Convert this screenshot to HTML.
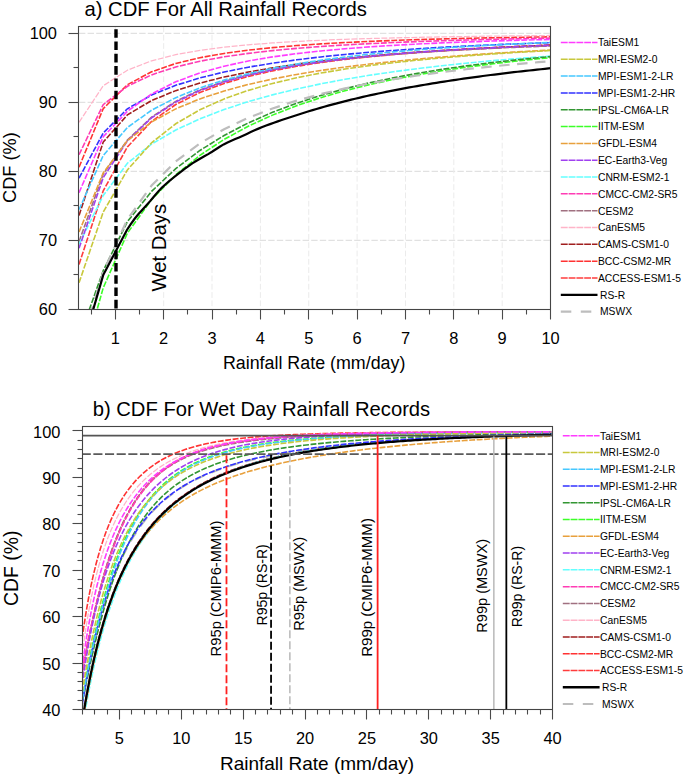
<!DOCTYPE html>
<html><head><meta charset="utf-8"><style>
html,body{margin:0;padding:0;background:#fff;}
svg{display:block;}
text{font-family:"Liberation Sans", sans-serif;fill:#000;}
</style></head><body>
<svg width="685" height="777" viewBox="0 0 685 777">
<rect width="685" height="777" fill="#fff"/>
<defs>
<clipPath id="ca"><rect x="79.0" y="26.5" width="471.5" height="282.8"/></clipPath>
<clipPath id="cb"><rect x="82.3" y="426.8" width="470.3" height="282.7"/></clipPath>
</defs>

<line x1="79.0" x2="550.5" y1="240.30" y2="240.30" stroke="#dadada" stroke-width="1" stroke-dasharray="6.4 2.2"/>
<line x1="79.0" x2="550.5" y1="171.30" y2="171.30" stroke="#dadada" stroke-width="1" stroke-dasharray="6.4 2.2"/>
<line x1="79.0" x2="550.5" y1="102.30" y2="102.30" stroke="#dadada" stroke-width="1" stroke-dasharray="6.4 2.2"/>
<line x1="79.0" x2="550.5" y1="33.30" y2="33.30" stroke="#dadada" stroke-width="1" stroke-dasharray="6.4 2.2"/>
<line x1="115.30" x2="115.30" y1="26.5" y2="309.3" stroke="#ebebeb" stroke-width="1" stroke-dasharray="5.8 2.5"/>
<line x1="163.66" x2="163.66" y1="26.5" y2="309.3" stroke="#ebebeb" stroke-width="1" stroke-dasharray="5.8 2.5"/>
<line x1="212.02" x2="212.02" y1="26.5" y2="309.3" stroke="#ebebeb" stroke-width="1" stroke-dasharray="5.8 2.5"/>
<line x1="260.38" x2="260.38" y1="26.5" y2="309.3" stroke="#ebebeb" stroke-width="1" stroke-dasharray="5.8 2.5"/>
<line x1="308.74" x2="308.74" y1="26.5" y2="309.3" stroke="#ebebeb" stroke-width="1" stroke-dasharray="5.8 2.5"/>
<line x1="357.10" x2="357.10" y1="26.5" y2="309.3" stroke="#ebebeb" stroke-width="1" stroke-dasharray="5.8 2.5"/>
<line x1="405.46" x2="405.46" y1="26.5" y2="309.3" stroke="#ebebeb" stroke-width="1" stroke-dasharray="5.8 2.5"/>
<line x1="453.82" x2="453.82" y1="26.5" y2="309.3" stroke="#ebebeb" stroke-width="1" stroke-dasharray="5.8 2.5"/>
<line x1="502.18" x2="502.18" y1="26.5" y2="309.3" stroke="#ebebeb" stroke-width="1" stroke-dasharray="5.8 2.5"/>
<g clip-path="url(#ca)">
<polyline points="79.03,264.45 103.21,190.87 127.39,146.92 151.57,121.43 175.75,104.53 199.93,92.47 224.11,83.43 248.29,76.42 272.47,70.84 296.65,66.30 320.83,62.56 345.01,59.43 369.19,56.77 393.37,54.50 417.55,52.54 441.73,50.84 465.91,49.35 490.09,48.03 514.27,46.87 538.45,45.83 562.63,44.90" stroke="#ff3c3c" stroke-width="1.6" stroke-dasharray="5.9 1.6" fill="none"/>
<polyline points="79.03,167.16 103.21,108.63 127.39,84.73 151.57,71.81 175.75,63.51 199.93,57.70 224.11,53.42 248.29,50.16 272.47,47.60 296.65,45.56 320.83,43.90 345.01,42.54 369.19,41.40 393.37,40.45 417.55,39.64 441.73,38.94 465.91,38.35 490.09,37.83 514.27,37.38 538.45,36.99 562.63,36.64" stroke="#ff3232" stroke-width="1.6" stroke-dasharray="5.9 1.6" fill="none"/>
<polyline points="79.03,215.46 103.21,142.09 127.39,114.89 151.57,100.51 175.75,90.63 199.93,83.10 224.11,77.05 248.29,72.06 272.47,67.85 296.65,64.25 320.83,61.15 345.01,58.45 369.19,56.09 393.37,54.01 417.55,52.17 441.73,50.53 465.91,49.07 490.09,47.77 514.27,46.60 538.45,45.54 562.63,44.59" stroke="#a01e1e" stroke-width="1.6" stroke-dasharray="5.9 1.6" fill="none"/>
<polyline points="79.03,122.31 103.21,85.76 127.39,70.19 151.57,60.84 175.75,54.66 199.93,50.32 224.11,47.16 248.29,44.77 272.47,42.92 296.65,41.46 320.83,40.29 345.01,39.34 369.19,38.56 393.37,37.91 417.55,37.36 441.73,36.89 465.91,36.50 490.09,36.16 514.27,35.86 538.45,35.61 562.63,35.39" stroke="#ffb4c8" stroke-width="1.25" stroke-dasharray="5.9 1.6" fill="none"/>
<polyline points="79.03,241.68 103.21,174.06 127.39,140.08 151.57,117.17 175.75,101.33 199.93,89.91 224.11,81.34 248.29,74.73 272.47,69.50 296.65,65.27 320.83,61.79 345.01,58.89 369.19,56.44 393.37,54.35 417.55,52.55 441.73,50.99 465.91,49.62 490.09,48.41 514.27,47.34 538.45,46.39 562.63,45.54" stroke="#a07080" stroke-width="1.6" stroke-dasharray="5.9 1.6" fill="none"/>
<polyline points="79.03,154.74 103.21,104.67 127.39,86.27 151.57,74.87 175.75,66.98 199.93,61.21 224.11,56.81 248.29,53.36 272.47,50.61 296.65,48.36 320.83,46.51 345.01,44.96 369.19,43.65 393.37,42.54 417.55,41.58 441.73,40.76 465.91,40.04 490.09,39.41 514.27,38.86 538.45,38.37 562.63,37.94" stroke="#ff3cb4" stroke-width="1.6" stroke-dasharray="5.9 1.6" fill="none"/>
<polyline points="79.03,244.09 103.21,195.51 127.39,163.23 151.57,144.11 175.75,130.04 199.93,118.81 224.11,109.50 248.29,101.62 272.47,94.85 296.65,88.98 320.83,83.84 345.01,79.32 369.19,75.33 393.37,71.77 417.55,68.60 441.73,65.77 465.91,63.21 490.09,60.91 514.27,58.84 538.45,56.95 562.63,55.24" stroke="#64ffff" stroke-width="1.6" stroke-dasharray="5.9 1.6" fill="none"/>
<polyline points="79.03,248.24 103.21,177.61 127.39,140.90 151.57,117.82 175.75,102.03 199.93,90.59 224.11,81.96 248.29,75.24 272.47,69.87 296.65,65.51 320.83,61.91 345.01,58.89 369.19,56.33 393.37,54.14 417.55,52.26 441.73,50.61 465.91,49.17 490.09,47.90 514.27,46.78 538.45,45.78 562.63,44.88" stroke="#a040f0" stroke-width="1.6" stroke-dasharray="5.9 1.6" fill="none"/>
<polyline points="79.03,232.02 103.21,172.89 127.39,140.63 151.57,121.95 175.75,108.85 199.93,98.89 224.11,90.95 248.29,84.46 272.47,79.03 296.65,74.42 320.83,70.47 345.01,67.05 369.19,64.06 393.37,61.44 417.55,59.12 441.73,57.05 465.91,55.21 490.09,53.55 514.27,52.07 538.45,50.72 562.63,49.50" stroke="#e8a03c" stroke-width="1.6" stroke-dasharray="5.9 1.6" fill="none"/>
<polyline points="79.03,373.47 103.21,287.94 127.39,233.16 151.57,199.62 175.75,174.86 199.93,155.32 224.11,139.42 248.29,126.22 272.47,115.12 296.65,105.70 320.83,97.64 345.01,90.69 369.19,84.67 393.37,79.42 417.55,74.83 441.73,70.80 465.91,67.24 490.09,64.10 514.27,61.30 538.45,58.81 562.63,56.59" stroke="#3cff28" stroke-width="1.6" stroke-dasharray="5.9 1.6" fill="none"/>
<polyline points="79.03,338.28 103.21,270.68 127.39,221.68 151.57,191.38 175.75,168.65 199.93,150.45 224.11,135.47 248.29,122.93 272.47,112.31 296.65,103.24 320.83,95.45 345.01,88.72 369.19,82.87 393.37,77.77 417.55,73.30 441.73,69.37 465.91,65.90 490.09,62.83 514.27,60.11 538.45,57.68 562.63,55.51" stroke="#329632" stroke-width="1.6" stroke-dasharray="5.9 1.6" fill="none"/>
<polyline points="79.03,178.20 103.21,132.97 127.39,108.79 151.57,94.99 175.75,85.30 199.93,77.91 224.11,72.01 248.29,67.19 272.47,63.18 296.65,59.80 320.83,56.92 345.01,54.44 369.19,52.29 393.37,50.43 417.55,48.79 441.73,47.35 465.91,46.08 490.09,44.95 514.27,43.94 538.45,43.05 562.63,42.24" stroke="#3232ff" stroke-width="1.6" stroke-dasharray="5.9 1.6" fill="none"/>
<polyline points="79.03,209.59 103.21,155.55 127.39,127.46 151.57,110.24 175.75,97.67 199.93,87.90 224.11,80.07 248.29,73.66 272.47,68.36 296.65,63.92 320.83,60.17 345.01,56.98 369.19,54.26 393.37,51.91 417.55,49.88 441.73,48.11 465.91,46.58 490.09,45.23 514.27,44.04 538.45,43.00 562.63,42.08" stroke="#46c8ff" stroke-width="1.6" stroke-dasharray="5.9 1.6" fill="none"/>
<polyline points="79.03,282.80 103.21,212.11 127.39,169.93 151.57,142.78 175.75,123.77 199.93,109.71 224.11,98.91 248.29,90.37 272.47,83.47 296.65,77.79 320.83,73.05 345.01,69.05 369.19,65.63 393.37,62.68 417.55,60.11 441.73,57.87 465.91,55.89 490.09,54.14 514.27,52.58 538.45,51.19 562.63,49.94" stroke="#c8c83c" stroke-width="1.6" stroke-dasharray="5.9 1.6" fill="none"/>
<polyline points="79.03,192.69 103.21,136.81 127.39,111.32 151.57,93.97 175.75,81.78 199.93,72.87 224.11,66.17 248.29,60.99 272.47,56.91 296.65,53.63 320.83,50.95 345.01,48.75 369.19,46.91 393.37,45.36 417.55,44.04 441.73,42.91 465.91,41.94 490.09,41.10 514.27,40.36 538.45,39.72 562.63,39.15" stroke="#ff3cff" stroke-width="1.6" stroke-dasharray="5.9 1.6" fill="none"/>
<polyline points="79.03,350.70 103.21,272.19 127.39,219.35 151.57,185.54 175.75,161.50 199.93,143.39 224.11,129.21 248.29,117.81 272.47,108.45 296.65,100.64 320.83,94.03 345.01,88.37 369.19,83.49 393.37,79.23 417.55,75.50 441.73,72.20 465.91,69.27 490.09,66.65 514.27,64.31 538.45,62.20 562.63,60.29" stroke="#bdbdbd" stroke-width="2.2" stroke-dasharray="10.5 7.5" fill="none"/>
<polyline points="79.03,358.29 103.21,275.08 126.91,229.95 130.78,224.14 134.64,218.78 138.51,214.02 142.38,209.66 146.25,205.44 150.12,201.11 153.99,196.47 157.86,191.87 161.73,187.86 165.59,184.26 169.46,180.92 173.33,177.73 177.20,174.63 181.07,171.60 184.94,168.67 188.81,165.87 192.68,163.20 196.54,160.71 200.41,158.43 204.28,156.27 208.15,154.09 212.02,151.76 215.89,149.25 219.76,146.74 223.63,144.43 227.50,142.46 231.36,140.73 235.23,139.11 239.10,137.46 242.97,135.71 246.84,133.90 250.71,132.08 254.58,130.31 258.45,128.62 262.31,127.06 266.18,125.57 270.05,124.14 273.92,122.74 277.79,121.39 281.66,120.06 285.53,118.77 289.40,117.49 293.26,116.22 297.13,114.96 301.00,113.71 304.87,112.49 308.74,111.29 312.61,110.11 316.48,108.96 320.35,107.84 324.22,106.74 328.08,105.66 331.95,104.61 335.82,103.58 339.69,102.57 343.56,101.58 347.43,100.61 351.30,99.66 355.17,98.73 359.03,97.82 362.90,96.92 366.77,96.05 370.64,95.19 374.51,94.34 378.38,93.52 382.25,92.71 386.12,91.91 389.98,91.13 393.85,90.36 397.72,89.61 401.59,88.87 405.46,88.15 409.33,87.43 413.20,86.74 417.07,86.05 420.94,85.38 424.80,84.71 428.67,84.06 432.54,83.42 436.41,82.79 440.28,82.18 444.15,81.57 448.02,80.97 451.89,80.39 455.75,79.81 459.62,79.24 463.49,78.69 467.36,78.14 471.23,77.60 475.10,77.07 478.97,76.55 482.84,76.03 486.70,75.53 490.57,75.03 494.44,74.54 498.31,74.06 502.18,73.59 506.05,73.12 509.92,72.67 513.79,72.21 517.66,71.77 521.52,71.33 525.39,70.90 529.26,70.48 533.13,70.06 537.00,69.65 540.87,69.24 544.74,68.84 548.61,68.45 552.47,68.06 556.34,67.68 560.21,67.30" stroke="#000" stroke-width="2.2" fill="none"/>
</g>
<line x1="116" x2="116" y1="29.2" y2="309.3" stroke="#000" stroke-width="3.4" stroke-dasharray="8.6 3.7"/>
<text transform="translate(166.4,291.5) rotate(-90)" font-size="21" textLength="87.6" lengthAdjust="spacingAndGlyphs">Wet Days</text>
<rect x="78.5" y="26.5" width="472" height="283" fill="none" stroke="#444" stroke-width="1.1"/>
<line x1="68.5" x2="78.5" y1="309.50" y2="309.50" stroke="#4a4a4a" stroke-width="1.1"/>
<line x1="73.5" x2="78.5" y1="274.50" y2="274.50" stroke="#4a4a4a" stroke-width="1.1"/>
<line x1="68.5" x2="78.5" y1="240.50" y2="240.50" stroke="#4a4a4a" stroke-width="1.1"/>
<line x1="73.5" x2="78.5" y1="205.50" y2="205.50" stroke="#4a4a4a" stroke-width="1.1"/>
<line x1="68.5" x2="78.5" y1="171.50" y2="171.50" stroke="#4a4a4a" stroke-width="1.1"/>
<line x1="73.5" x2="78.5" y1="136.50" y2="136.50" stroke="#4a4a4a" stroke-width="1.1"/>
<line x1="68.5" x2="78.5" y1="102.50" y2="102.50" stroke="#4a4a4a" stroke-width="1.1"/>
<line x1="73.5" x2="78.5" y1="67.50" y2="67.50" stroke="#4a4a4a" stroke-width="1.1"/>
<line x1="68.5" x2="78.5" y1="33.50" y2="33.50" stroke="#4a4a4a" stroke-width="1.1"/>
<text x="57" y="315.30" font-size="16.4" text-anchor="end">60</text>
<text x="57" y="246.30" font-size="16.4" text-anchor="end">70</text>
<text x="57" y="177.30" font-size="16.4" text-anchor="end">80</text>
<text x="57" y="108.30" font-size="16.4" text-anchor="end">90</text>
<text x="57" y="39.30" font-size="16.4" text-anchor="end">100</text>
<line x1="91.50" x2="91.50" y1="309.5" y2="314.5" stroke="#4a4a4a" stroke-width="1.1"/>
<line x1="115.50" x2="115.50" y1="309.5" y2="319.5" stroke="#4a4a4a" stroke-width="1.1"/>
<line x1="139.50" x2="139.50" y1="309.5" y2="314.5" stroke="#4a4a4a" stroke-width="1.1"/>
<line x1="163.50" x2="163.50" y1="309.5" y2="319.5" stroke="#4a4a4a" stroke-width="1.1"/>
<line x1="187.50" x2="187.50" y1="309.5" y2="314.5" stroke="#4a4a4a" stroke-width="1.1"/>
<line x1="212.50" x2="212.50" y1="309.5" y2="319.5" stroke="#4a4a4a" stroke-width="1.1"/>
<line x1="236.50" x2="236.50" y1="309.5" y2="314.5" stroke="#4a4a4a" stroke-width="1.1"/>
<line x1="260.50" x2="260.50" y1="309.5" y2="319.5" stroke="#4a4a4a" stroke-width="1.1"/>
<line x1="284.50" x2="284.50" y1="309.5" y2="314.5" stroke="#4a4a4a" stroke-width="1.1"/>
<line x1="308.50" x2="308.50" y1="309.5" y2="319.5" stroke="#4a4a4a" stroke-width="1.1"/>
<line x1="332.50" x2="332.50" y1="309.5" y2="314.5" stroke="#4a4a4a" stroke-width="1.1"/>
<line x1="357.50" x2="357.50" y1="309.5" y2="319.5" stroke="#4a4a4a" stroke-width="1.1"/>
<line x1="381.50" x2="381.50" y1="309.5" y2="314.5" stroke="#4a4a4a" stroke-width="1.1"/>
<line x1="405.50" x2="405.50" y1="309.5" y2="319.5" stroke="#4a4a4a" stroke-width="1.1"/>
<line x1="429.50" x2="429.50" y1="309.5" y2="314.5" stroke="#4a4a4a" stroke-width="1.1"/>
<line x1="453.50" x2="453.50" y1="309.5" y2="319.5" stroke="#4a4a4a" stroke-width="1.1"/>
<line x1="478.50" x2="478.50" y1="309.5" y2="314.5" stroke="#4a4a4a" stroke-width="1.1"/>
<line x1="502.50" x2="502.50" y1="309.5" y2="319.5" stroke="#4a4a4a" stroke-width="1.1"/>
<line x1="526.50" x2="526.50" y1="309.5" y2="314.5" stroke="#4a4a4a" stroke-width="1.1"/>
<line x1="550.50" x2="550.50" y1="309.5" y2="319.5" stroke="#4a4a4a" stroke-width="1.1"/>
<text x="115.30" y="344" font-size="16.4" text-anchor="middle">1</text>
<text x="163.66" y="344" font-size="16.4" text-anchor="middle">2</text>
<text x="212.02" y="344" font-size="16.4" text-anchor="middle">3</text>
<text x="260.38" y="344" font-size="16.4" text-anchor="middle">4</text>
<text x="308.74" y="344" font-size="16.4" text-anchor="middle">5</text>
<text x="357.10" y="344" font-size="16.4" text-anchor="middle">6</text>
<text x="405.46" y="344" font-size="16.4" text-anchor="middle">7</text>
<text x="453.82" y="344" font-size="16.4" text-anchor="middle">8</text>
<text x="502.18" y="344" font-size="16.4" text-anchor="middle">9</text>
<text x="550.54" y="344" font-size="16.4" text-anchor="middle">10</text>
<text x="314.15" y="368.7" font-size="17.85" text-anchor="middle">Rainfall Rate (mm/day)</text>
<text transform="translate(15.5,167.6) rotate(-90)" font-size="18.2" text-anchor="middle">CDF (%)</text>
<text x="84.4" y="15.6" font-size="20.3" textLength="282.5" lengthAdjust="spacingAndGlyphs">a) CDF For All Rainfall Records</text>
<line x1="560.8" x2="597.5" y1="42.40" y2="42.40" stroke="#ff3cff" stroke-width="1.5" stroke-dasharray="6.9 0.9"/>
<text x="598" y="46.20" font-size="10.3">TaiESM1</text>
<line x1="560.8" x2="597.5" y1="59.23" y2="59.23" stroke="#c8c83c" stroke-width="1.5" stroke-dasharray="6.9 0.9"/>
<text x="598" y="63.03" font-size="10.3">MRI-ESM2-0</text>
<line x1="560.8" x2="597.5" y1="76.06" y2="76.06" stroke="#46c8ff" stroke-width="1.5" stroke-dasharray="6.9 0.9"/>
<text x="598" y="79.86" font-size="10.3">MPI-ESM1-2-LR</text>
<line x1="560.8" x2="597.5" y1="92.89" y2="92.89" stroke="#3232ff" stroke-width="1.5" stroke-dasharray="6.9 0.9"/>
<text x="598" y="96.69" font-size="10.3">MPI-ESM1-2-HR</text>
<line x1="560.8" x2="597.5" y1="109.72" y2="109.72" stroke="#329632" stroke-width="1.5" stroke-dasharray="6.9 0.9"/>
<text x="598" y="113.52" font-size="10.3">IPSL-CM6A-LR</text>
<line x1="560.8" x2="597.5" y1="126.55" y2="126.55" stroke="#3cff28" stroke-width="1.5" stroke-dasharray="6.9 0.9"/>
<text x="598" y="130.35" font-size="10.3">IITM-ESM</text>
<line x1="560.8" x2="597.5" y1="143.38" y2="143.38" stroke="#e8a03c" stroke-width="1.5" stroke-dasharray="6.9 0.9"/>
<text x="598" y="147.18" font-size="10.3">GFDL-ESM4</text>
<line x1="560.8" x2="597.5" y1="160.21" y2="160.21" stroke="#a040f0" stroke-width="1.5" stroke-dasharray="6.9 0.9"/>
<text x="598" y="164.01" font-size="10.3">EC-Earth3-Veg</text>
<line x1="560.8" x2="597.5" y1="177.04" y2="177.04" stroke="#64ffff" stroke-width="1.5" stroke-dasharray="6.9 0.9"/>
<text x="598" y="180.84" font-size="10.3">CNRM-ESM2-1</text>
<line x1="560.8" x2="597.5" y1="193.87" y2="193.87" stroke="#ff3cb4" stroke-width="1.5" stroke-dasharray="6.9 0.9"/>
<text x="598" y="197.67" font-size="10.3">CMCC-CM2-SR5</text>
<line x1="560.8" x2="597.5" y1="210.70" y2="210.70" stroke="#a07080" stroke-width="1.5" stroke-dasharray="6.9 0.9"/>
<text x="598" y="214.50" font-size="10.3">CESM2</text>
<line x1="560.8" x2="597.5" y1="227.53" y2="227.53" stroke="#ffb4c8" stroke-width="1.5" stroke-dasharray="6.9 0.9"/>
<text x="598" y="231.33" font-size="10.3">CanESM5</text>
<line x1="560.8" x2="597.5" y1="244.36" y2="244.36" stroke="#a01e1e" stroke-width="1.5" stroke-dasharray="6.9 0.9"/>
<text x="598" y="248.16" font-size="10.3">CAMS-CSM1-0</text>
<line x1="560.8" x2="597.5" y1="261.19" y2="261.19" stroke="#ff3232" stroke-width="1.5" stroke-dasharray="6.9 0.9"/>
<text x="598" y="264.99" font-size="10.3">BCC-CSM2-MR</text>
<line x1="560.8" x2="597.5" y1="278.02" y2="278.02" stroke="#ff3c3c" stroke-width="1.5" stroke-dasharray="6.9 0.9"/>
<text x="598" y="281.82" font-size="10.3">ACCESS-ESM1-5</text>
<line x1="560.8" x2="597.5" y1="294.85" y2="294.85" stroke="#000" stroke-width="2.3"/>
<text x="600" y="298.65" font-size="10.3">RS-R</text>
<line x1="560.8" x2="597.5" y1="311.68" y2="311.68" stroke="#bdbdbd" stroke-width="2.2" stroke-dasharray="10.5 9.5"/>
<text x="600" y="315.48" font-size="10.3">MSWX</text>
<g clip-path="url(#cb)">
<polyline points="81.06,713.34 83.54,698.46 86.01,684.46 88.49,671.32 90.96,659.00 93.44,647.48 95.91,636.71 98.39,626.64 100.87,617.23 103.34,608.43 105.82,600.20 108.29,592.50 110.77,585.28 113.24,578.52 115.72,572.18 118.19,566.23 120.67,560.64 123.14,555.38 125.62,550.43 128.09,545.76 130.57,541.37 133.05,537.22 135.52,533.29 138.00,529.59 140.47,526.07 142.95,522.75 145.42,519.60 147.90,516.60 150.37,513.76 152.85,511.06 155.32,508.48 157.80,506.04 160.28,503.70 162.75,501.48 165.23,499.35 167.70,497.32 170.18,495.38 172.65,493.52 175.13,491.75 177.60,490.04 180.08,488.41 182.55,486.84 185.03,485.34 187.50,483.90 189.98,482.51 192.46,481.18 194.93,479.89 197.41,478.66 199.88,477.46 202.36,476.32 204.83,475.21 207.31,474.14 209.78,473.11 212.26,472.11 214.73,471.15 217.21,470.22 219.68,469.32 222.16,468.45 224.64,467.61 227.11,466.79 229.59,466.00 232.06,465.23 234.54,464.49 237.01,463.77 239.49,463.07 241.96,462.39 244.44,461.73 246.91,461.09 249.39,460.46 251.86,459.86 254.34,459.27 256.82,458.70 259.29,458.14 261.77,457.60 264.24,457.07 266.72,456.55 269.19,456.05 271.67,455.56 274.14,455.08 276.62,454.62 279.09,454.17 281.57,453.72 284.05,453.29 286.52,452.87 289.00,452.46 291.47,452.06 293.95,451.66 296.42,451.28 298.90,450.91 301.37,450.54 303.85,450.18 306.32,449.83 308.80,449.49 311.27,449.15 313.75,448.83 316.23,448.51 318.70,448.19 321.18,447.89 323.65,447.58 326.13,447.29 328.60,447.00 331.08,446.72 333.55,446.44 336.03,446.17 338.50,445.91 340.98,445.64 343.45,445.39 345.93,445.14 348.41,444.89 350.88,444.65 353.36,444.42 355.83,444.19 358.31,443.96 360.78,443.74 363.26,443.52 365.73,443.30 368.21,443.09 370.68,442.88 373.16,442.68 375.63,442.48 378.11,442.29 380.59,442.10 383.06,441.91 385.54,441.72 388.01,441.54 390.49,441.36 392.96,441.19 395.44,441.01 397.91,440.84 400.39,440.68 402.86,440.51 405.34,440.35 407.82,440.20 410.29,440.04 412.77,439.89 415.24,439.74 417.72,439.59 420.19,439.45 422.67,439.30 425.14,439.16 427.62,439.03 430.09,438.89 432.57,438.76 435.04,438.63 437.52,438.50 440.00,438.37 442.47,438.25 444.95,438.12 447.42,438.00 449.90,437.89 452.37,437.77 454.85,437.65 457.32,437.54 459.80,437.43 462.27,437.32 464.75,437.21 467.22,437.11 469.70,437.01 472.18,436.90 474.65,436.80 477.13,436.70 479.60,436.61 482.08,436.51 484.55,436.42 487.03,436.32 489.50,436.23 491.98,436.14 494.45,436.06 496.93,435.97 499.40,435.88 501.88,435.80 504.36,435.72 506.83,435.64 509.31,435.56 511.78,435.48 514.26,435.40 516.73,435.32 519.21,435.25 521.68,435.17 524.16,435.10 526.63,435.03 529.11,434.96 531.59,434.89 534.06,434.82 536.54,434.75 539.01,434.69 541.49,434.62 543.96,434.56 546.44,434.50 548.91,434.44 551.39,434.37" stroke="#bdbdbd" stroke-width="2.2" stroke-dasharray="10.5 7.5" fill="none"/>
<polyline points="81.06,677.52 83.54,664.05 86.01,651.11 88.49,638.75 90.96,626.99 93.44,615.84 95.91,605.28 98.39,595.31 100.87,585.91 103.34,577.05 105.82,568.71 108.29,560.87 110.77,553.50 113.24,546.58 115.72,540.08 118.19,533.98 120.67,528.25 123.14,522.88 125.62,517.84 128.09,513.10 130.57,508.66 133.05,504.49 135.52,500.57 138.00,496.89 140.47,493.44 142.95,490.20 145.42,487.15 147.90,484.28 150.37,481.58 152.85,479.05 155.32,476.66 157.80,474.41 160.28,472.29 162.75,470.30 165.23,468.42 167.70,466.65 170.18,464.98 172.65,463.40 175.13,461.91 177.60,460.50 180.08,459.17 182.55,457.92 185.03,456.73 187.50,455.61 189.98,454.54 192.46,453.53 194.93,452.58 197.41,451.67 199.88,450.82 202.36,450.00 204.83,449.23 207.31,448.50 209.78,447.80 212.26,447.14 214.73,446.51 217.21,445.91 219.68,445.34 222.16,444.80 224.64,444.28 227.11,443.79 229.59,443.33 232.06,442.88 234.54,442.45 237.01,442.05 239.49,441.66 241.96,441.29 244.44,440.94 246.91,440.60 249.39,440.28 251.86,439.97 254.34,439.67 256.82,439.39 259.29,439.12 261.77,438.86 264.24,438.61 266.72,438.37 269.19,438.15 271.67,437.93 274.14,437.72 276.62,437.52 279.09,437.32 281.57,437.14 284.05,436.96 286.52,436.79 289.00,436.62 291.47,436.46 293.95,436.31 296.42,436.16 298.90,436.02 301.37,435.89 303.85,435.76 306.32,435.63 308.80,435.51 311.27,435.39 313.75,435.28 316.23,435.17 318.70,435.07 321.18,434.97 323.65,434.87 326.13,434.77 328.60,434.68 331.08,434.59 333.55,434.51 336.03,434.43 338.50,434.35 340.98,434.27 343.45,434.20 345.93,434.12 348.41,434.06 350.88,433.99 353.36,433.92 355.83,433.86 358.31,433.80 360.78,433.74 363.26,433.68 365.73,433.63 368.21,433.57 370.68,433.52 373.16,433.47 375.63,433.42 378.11,433.37 380.59,433.33 383.06,433.28 385.54,433.24 388.01,433.20 390.49,433.15 392.96,433.11 395.44,433.07 397.91,433.04 400.39,433.00 402.86,432.96 405.34,432.93 407.82,432.90 410.29,432.86 412.77,432.83 415.24,432.80 417.72,432.77 420.19,432.74 422.67,432.71 425.14,432.68 427.62,432.66 430.09,432.63 432.57,432.60 435.04,432.58 437.52,432.55 440.00,432.53 442.47,432.51 444.95,432.48 447.42,432.46 449.90,432.44 452.37,432.42 454.85,432.40 457.32,432.38 459.80,432.36 462.27,432.34 464.75,432.32 467.22,432.30 469.70,432.28 472.18,432.27 474.65,432.25 477.13,432.23 479.60,432.22 482.08,432.20 484.55,432.19 487.03,432.17 489.50,432.15 491.98,432.14 494.45,432.13 496.93,432.11 499.40,432.10 501.88,432.09 504.36,432.07 506.83,432.06 509.31,432.05 511.78,432.03 514.26,432.02 516.73,432.01 519.21,432.00 521.68,431.99 524.16,431.98 526.63,431.97 529.11,431.96 531.59,431.95 534.06,431.94 536.54,431.93 539.01,431.92 541.49,431.91 543.96,431.90 546.44,431.89 548.91,431.88 551.39,431.87" stroke="#ff3c3c" stroke-width="1.6" stroke-dasharray="5.9 1.6" fill="none"/>
<polyline points="81.06,646.68 83.54,628.54 86.01,612.60 88.49,598.49 90.96,585.93 93.44,574.69 95.91,564.56 98.39,555.41 100.87,547.10 103.34,539.52 105.82,532.58 108.29,526.22 110.77,520.37 113.24,514.98 115.72,509.99 118.19,505.38 120.67,501.09 123.14,497.11 125.62,493.41 128.09,489.95 130.57,486.73 133.05,483.72 135.52,480.91 138.00,478.27 140.47,475.80 142.95,473.48 145.42,471.31 147.90,469.27 150.37,467.35 152.85,465.54 155.32,463.84 157.80,462.24 160.28,460.73 162.75,459.30 165.23,457.96 167.70,456.69 170.18,455.49 172.65,454.36 175.13,453.29 177.60,452.28 180.08,451.32 182.55,450.41 185.03,449.55 187.50,448.74 189.98,447.96 192.46,447.23 194.93,446.54 197.41,445.88 199.88,445.25 202.36,444.66 204.83,444.09 207.31,443.56 209.78,443.05 212.26,442.56 214.73,442.10 217.21,441.66 219.68,441.24 222.16,440.84 224.64,440.46 227.11,440.10 229.59,439.76 232.06,439.43 234.54,439.12 237.01,438.82 239.49,438.53 241.96,438.26 244.44,438.00 246.91,437.75 249.39,437.51 251.86,437.29 254.34,437.07 256.82,436.86 259.29,436.66 261.77,436.47 264.24,436.29 266.72,436.12 269.19,435.95 271.67,435.79 274.14,435.64 276.62,435.49 279.09,435.35 281.57,435.22 284.05,435.09 286.52,434.96 289.00,434.84 291.47,434.73 293.95,434.62 296.42,434.51 298.90,434.41 301.37,434.31 303.85,434.22 306.32,434.13 308.80,434.04 311.27,433.96 313.75,433.88 316.23,433.80 318.70,433.73 321.18,433.66 323.65,433.59 326.13,433.52 328.60,433.46 331.08,433.40 333.55,433.34 336.03,433.28 338.50,433.23 340.98,433.17 343.45,433.12 345.93,433.07 348.41,433.03 350.88,432.98 353.36,432.93 355.83,432.89 358.31,432.85 360.78,432.81 363.26,432.77 365.73,432.73 368.21,432.70 370.68,432.66 373.16,432.63 375.63,432.60 378.11,432.57 380.59,432.54 383.06,432.51 385.54,432.48 388.01,432.45 390.49,432.42 392.96,432.40 395.44,432.37 397.91,432.35 400.39,432.32 402.86,432.30 405.34,432.28 407.82,432.26 410.29,432.24 412.77,432.22 415.24,432.20 417.72,432.18 420.19,432.16 422.67,432.14 425.14,432.13 427.62,432.11 430.09,432.09 432.57,432.08 435.04,432.06 437.52,432.05 440.00,432.03 442.47,432.02 444.95,432.01 447.42,431.99 449.90,431.98 452.37,431.97 454.85,431.96 457.32,431.95 459.80,431.93 462.27,431.92 464.75,431.91 467.22,431.90 469.70,431.89 472.18,431.88 474.65,431.87 477.13,431.87 479.60,431.86 482.08,431.85 484.55,431.84 487.03,431.83 489.50,431.82 491.98,431.82 494.45,431.81 496.93,431.80 499.40,431.80 501.88,431.79 504.36,431.78 506.83,431.78 509.31,431.77 511.78,431.77 514.26,431.76 516.73,431.76 519.21,431.75 521.68,431.74 524.16,431.74 526.63,431.74 529.11,431.73 531.59,431.73 534.06,431.72 536.54,431.72 539.01,431.71 541.49,431.71 543.96,431.71 546.44,431.70 548.91,431.70 551.39,431.70" stroke="#ff3232" stroke-width="1.6" stroke-dasharray="5.9 1.6" fill="none"/>
<polyline points="81.06,728.66 83.54,712.75 86.01,698.08 88.49,684.56 90.96,672.07 93.44,660.51 95.91,649.79 98.39,639.84 100.87,630.57 103.34,621.93 105.82,613.85 108.29,606.28 110.77,599.18 113.24,592.51 115.72,586.24 118.19,580.32 120.67,574.74 123.14,569.46 125.62,564.46 128.09,559.73 130.57,555.24 133.05,550.97 135.52,546.91 138.00,543.04 140.47,539.36 142.95,535.85 145.42,532.49 147.90,529.29 150.37,526.23 152.85,523.29 155.32,520.48 157.80,517.79 160.28,515.21 162.75,512.73 165.23,510.35 167.70,508.07 170.18,505.87 172.65,503.76 175.13,501.72 177.60,499.76 180.08,497.87 182.55,496.05 185.03,494.30 187.50,492.60 189.98,490.97 192.46,489.39 194.93,487.87 197.41,486.39 199.88,484.97 202.36,483.59 204.83,482.26 207.31,480.97 209.78,479.72 212.26,478.51 214.73,477.34 217.21,476.20 219.68,475.10 222.16,474.04 224.64,473.00 227.11,472.00 229.59,471.02 232.06,470.08 234.54,469.16 237.01,468.27 239.49,467.40 241.96,466.56 244.44,465.75 246.91,464.95 249.39,464.18 251.86,463.43 254.34,462.70 256.82,461.99 259.29,461.30 261.77,460.63 264.24,459.97 266.72,459.34 269.19,458.72 271.67,458.11 274.14,457.52 276.62,456.95 279.09,456.39 281.57,455.85 284.05,455.32 286.52,454.80 289.00,454.30 291.47,453.81 293.95,453.33 296.42,452.86 298.90,452.41 301.37,451.97 303.85,451.53 306.32,451.11 308.80,450.70 311.27,450.29 313.75,449.90 316.23,449.52 318.70,449.14 321.18,448.78 323.65,448.42 326.13,448.07 328.60,447.73 331.08,447.40 333.55,447.07 336.03,446.76 338.50,446.45 340.98,446.14 343.45,445.85 345.93,445.56 348.41,445.27 350.88,445.00 353.36,444.72 355.83,444.46 358.31,444.20 360.78,443.95 363.26,443.70 365.73,443.46 368.21,443.22 370.68,442.99 373.16,442.76 375.63,442.54 378.11,442.32 380.59,442.11 383.06,441.90 385.54,441.70 388.01,441.50 390.49,441.30 392.96,441.11 395.44,440.93 397.91,440.74 400.39,440.56 402.86,440.39 405.34,440.22 407.82,440.05 410.29,439.88 412.77,439.72 415.24,439.56 417.72,439.41 420.19,439.26 422.67,439.11 425.14,438.96 427.62,438.82 430.09,438.68 432.57,438.54 435.04,438.41 437.52,438.28 440.00,438.15 442.47,438.02 444.95,437.90 447.42,437.78 449.90,437.66 452.37,437.54 454.85,437.43 457.32,437.31 459.80,437.20 462.27,437.10 464.75,436.99 467.22,436.89 469.70,436.78 472.18,436.68 474.65,436.59 477.13,436.49 479.60,436.40 482.08,436.30 484.55,436.21 487.03,436.12 489.50,436.04 491.98,435.95 494.45,435.87 496.93,435.78 499.40,435.70 501.88,435.62 504.36,435.55 506.83,435.47 509.31,435.39 511.78,435.32 514.26,435.25 516.73,435.18 519.21,435.11 521.68,435.04 524.16,434.97 526.63,434.91 529.11,434.84 531.59,434.78 534.06,434.71 536.54,434.65 539.01,434.59 541.49,434.53 543.96,434.48 546.44,434.42 548.91,434.36 551.39,434.31" stroke="#a01e1e" stroke-width="1.6" stroke-dasharray="5.9 1.6" fill="none"/>
<polyline points="81.06,663.75 83.54,644.34 86.01,627.36 88.49,612.42 90.96,599.18 93.44,587.38 95.91,576.80 98.39,567.25 100.87,558.60 103.34,550.72 105.82,543.51 108.29,536.90 110.77,530.81 113.24,525.18 115.72,519.97 118.19,515.13 120.67,510.63 123.14,506.43 125.62,502.51 128.09,498.84 130.57,495.40 133.05,492.17 135.52,489.14 138.00,486.29 140.47,483.61 142.95,481.08 145.42,478.69 147.90,476.44 150.37,474.31 152.85,472.30 155.32,470.40 157.80,468.60 160.28,466.89 162.75,465.28 165.23,463.75 167.70,462.30 170.18,460.92 172.65,459.61 175.13,458.37 177.60,457.19 180.08,456.06 182.55,455.00 185.03,453.98 187.50,453.02 189.98,452.10 192.46,451.23 194.93,450.39 197.41,449.60 199.88,448.85 202.36,448.13 204.83,447.44 207.31,446.79 209.78,446.16 212.26,445.57 214.73,445.00 217.21,444.46 219.68,443.94 222.16,443.44 224.64,442.97 227.11,442.52 229.59,442.09 232.06,441.68 234.54,441.28 237.01,440.91 239.49,440.55 241.96,440.20 244.44,439.87 246.91,439.56 249.39,439.25 251.86,438.96 254.34,438.69 256.82,438.42 259.29,438.17 261.77,437.92 264.24,437.69 266.72,437.46 269.19,437.25 271.67,437.04 274.14,436.84 276.62,436.66 279.09,436.47 281.57,436.30 284.05,436.13 286.52,435.97 289.00,435.81 291.47,435.67 293.95,435.52 296.42,435.38 298.90,435.25 301.37,435.13 303.85,435.00 306.32,434.89 308.80,434.77 311.27,434.66 313.75,434.56 316.23,434.46 318.70,434.36 321.18,434.27 323.65,434.18 326.13,434.09 328.60,434.01 331.08,433.93 333.55,433.85 336.03,433.77 338.50,433.70 340.98,433.63 343.45,433.57 345.93,433.50 348.41,433.44 350.88,433.38 353.36,433.32 355.83,433.26 358.31,433.21 360.78,433.16 363.26,433.11 365.73,433.06 368.21,433.01 370.68,432.96 373.16,432.92 375.63,432.88 378.11,432.84 380.59,432.80 383.06,432.76 385.54,432.72 388.01,432.68 390.49,432.65 392.96,432.62 395.44,432.58 397.91,432.55 400.39,432.52 402.86,432.49 405.34,432.46 407.82,432.43 410.29,432.41 412.77,432.38 415.24,432.36 417.72,432.33 420.19,432.31 422.67,432.28 425.14,432.26 427.62,432.24 430.09,432.22 432.57,432.20 435.04,432.18 437.52,432.16 440.00,432.14 442.47,432.12 444.95,432.11 447.42,432.09 449.90,432.07 452.37,432.06 454.85,432.04 457.32,432.03 459.80,432.01 462.27,432.00 464.75,431.98 467.22,431.97 469.70,431.96 472.18,431.94 474.65,431.93 477.13,431.92 479.60,431.91 482.08,431.90 484.55,431.89 487.03,431.88 489.50,431.87 491.98,431.86 494.45,431.85 496.93,431.84 499.40,431.83 501.88,431.82 504.36,431.81 506.83,431.80 509.31,431.79 511.78,431.79 514.26,431.78 516.73,431.77 519.21,431.77 521.68,431.76 524.16,431.75 526.63,431.75 529.11,431.74 531.59,431.73 534.06,431.73 536.54,431.72 539.01,431.72 541.49,431.71 543.96,431.71 546.44,431.70 548.91,431.70 551.39,431.69" stroke="#ffb4c8" stroke-width="1.25" stroke-dasharray="5.9 1.6" fill="none"/>
<polyline points="81.06,684.62 83.54,669.53 86.01,655.27 88.49,641.83 90.96,629.19 93.44,617.33 95.91,606.22 98.39,595.80 100.87,586.06 103.34,576.95 105.82,568.43 108.29,560.46 110.77,553.02 113.24,546.06 115.72,539.55 118.19,533.47 120.67,527.78 123.14,522.46 125.62,517.47 128.09,512.81 130.57,508.44 133.05,504.35 135.52,500.52 138.00,496.92 140.47,493.54 142.95,490.37 145.42,487.40 147.90,484.60 150.37,481.97 152.85,479.50 155.32,477.17 157.80,474.98 160.28,472.92 162.75,470.97 165.23,469.14 167.70,467.40 170.18,465.77 172.65,464.22 175.13,462.76 177.60,461.38 180.08,460.08 182.55,458.84 185.03,457.67 187.50,456.56 189.98,455.51 192.46,454.51 194.93,453.56 197.41,452.66 199.88,451.81 202.36,451.00 204.83,450.23 207.31,449.49 209.78,448.80 212.26,448.13 214.73,447.50 217.21,446.89 219.68,446.32 222.16,445.77 224.64,445.24 227.11,444.74 229.59,444.27 232.06,443.81 234.54,443.37 237.01,442.96 239.49,442.56 241.96,442.18 244.44,441.81 246.91,441.46 249.39,441.13 251.86,440.81 254.34,440.50 256.82,440.20 259.29,439.92 261.77,439.65 264.24,439.39 266.72,439.13 269.19,438.89 271.67,438.66 274.14,438.44 276.62,438.23 279.09,438.02 281.57,437.82 284.05,437.63 286.52,437.45 289.00,437.27 291.47,437.10 293.95,436.93 296.42,436.78 298.90,436.62 301.37,436.48 303.85,436.33 306.32,436.20 308.80,436.06 311.27,435.93 313.75,435.81 316.23,435.69 318.70,435.58 321.18,435.46 323.65,435.36 326.13,435.25 328.60,435.15 331.08,435.05 333.55,434.96 336.03,434.87 338.50,434.78 340.98,434.69 343.45,434.61 345.93,434.53 348.41,434.45 350.88,434.37 353.36,434.30 355.83,434.23 358.31,434.16 360.78,434.09 363.26,434.03 365.73,433.96 368.21,433.90 370.68,433.84 373.16,433.78 375.63,433.73 378.11,433.67 380.59,433.62 383.06,433.57 385.54,433.51 388.01,433.47 390.49,433.42 392.96,433.37 395.44,433.33 397.91,433.28 400.39,433.24 402.86,433.20 405.34,433.16 407.82,433.12 410.29,433.08 412.77,433.04 415.24,433.00 417.72,432.97 420.19,432.93 422.67,432.90 425.14,432.87 427.62,432.83 430.09,432.80 432.57,432.77 435.04,432.74 437.52,432.71 440.00,432.68 442.47,432.66 444.95,432.63 447.42,432.60 449.90,432.58 452.37,432.55 454.85,432.53 457.32,432.50 459.80,432.48 462.27,432.46 464.75,432.43 467.22,432.41 469.70,432.39 472.18,432.37 474.65,432.35 477.13,432.33 479.60,432.31 482.08,432.29 484.55,432.27 487.03,432.25 489.50,432.23 491.98,432.21 494.45,432.20 496.93,432.18 499.40,432.16 501.88,432.15 504.36,432.13 506.83,432.12 509.31,432.10 511.78,432.08 514.26,432.07 516.73,432.06 519.21,432.04 521.68,432.03 524.16,432.01 526.63,432.00 529.11,431.99 531.59,431.97 534.06,431.96 536.54,431.95 539.01,431.94 541.49,431.93 543.96,431.91 546.44,431.90 548.91,431.89 551.39,431.88" stroke="#a07080" stroke-width="1.6" stroke-dasharray="5.9 1.6" fill="none"/>
<polyline points="81.06,678.37 83.54,664.88 86.01,651.96 88.49,639.63 90.96,627.92 93.44,616.81 95.91,606.30 98.39,596.36 100.87,586.99 103.34,578.16 105.82,569.84 108.29,562.02 110.77,554.65 113.24,547.73 115.72,541.23 118.19,535.12 120.67,529.37 123.14,523.98 125.62,518.91 128.09,514.15 130.57,509.68 133.05,505.48 135.52,501.53 138.00,497.82 140.47,494.34 142.95,491.06 145.42,487.97 147.90,485.07 150.37,482.34 152.85,479.77 155.32,477.35 157.80,475.07 160.28,472.92 162.75,470.90 165.23,468.99 167.70,467.18 170.18,465.48 172.65,463.88 175.13,462.36 177.60,460.93 180.08,459.58 182.55,458.30 185.03,457.09 187.50,455.94 189.98,454.85 192.46,453.83 194.93,452.85 197.41,451.93 199.88,451.06 202.36,450.23 204.83,449.44 207.31,448.69 209.78,447.98 212.26,447.31 214.73,446.66 217.21,446.05 219.68,445.47 222.16,444.92 224.64,444.39 227.11,443.89 229.59,443.42 232.06,442.96 234.54,442.53 237.01,442.11 239.49,441.72 241.96,441.34 244.44,440.98 246.91,440.64 249.39,440.31 251.86,440.00 254.34,439.70 256.82,439.41 259.29,439.14 261.77,438.87 264.24,438.62 266.72,438.38 269.19,438.15 271.67,437.93 274.14,437.71 276.62,437.51 279.09,437.31 281.57,437.12 284.05,436.94 286.52,436.77 289.00,436.60 291.47,436.44 293.95,436.29 296.42,436.14 298.90,436.00 301.37,435.86 303.85,435.73 306.32,435.60 308.80,435.48 311.27,435.36 313.75,435.25 316.23,435.14 318.70,435.04 321.18,434.93 323.65,434.84 326.13,434.74 328.60,434.65 331.08,434.56 333.55,434.48 336.03,434.39 338.50,434.32 340.98,434.24 343.45,434.16 345.93,434.09 348.41,434.02 350.88,433.96 353.36,433.89 355.83,433.83 358.31,433.77 360.78,433.71 363.26,433.65 365.73,433.60 368.21,433.54 370.68,433.49 373.16,433.44 375.63,433.39 378.11,433.34 380.59,433.30 383.06,433.25 385.54,433.21 388.01,433.17 390.49,433.13 392.96,433.09 395.44,433.05 397.91,433.01 400.39,432.97 402.86,432.94 405.34,432.90 407.82,432.87 410.29,432.84 412.77,432.81 415.24,432.78 417.72,432.75 420.19,432.72 422.67,432.69 425.14,432.66 427.62,432.64 430.09,432.61 432.57,432.58 435.04,432.56 437.52,432.54 440.00,432.51 442.47,432.49 444.95,432.47 447.42,432.45 449.90,432.42 452.37,432.40 454.85,432.38 457.32,432.36 459.80,432.34 462.27,432.33 464.75,432.31 467.22,432.29 469.70,432.27 472.18,432.26 474.65,432.24 477.13,432.22 479.60,432.21 482.08,432.19 484.55,432.18 487.03,432.16 489.50,432.15 491.98,432.13 494.45,432.12 496.93,432.11 499.40,432.09 501.88,432.08 504.36,432.07 506.83,432.06 509.31,432.04 511.78,432.03 514.26,432.02 516.73,432.01 519.21,432.00 521.68,431.99 524.16,431.98 526.63,431.97 529.11,431.96 531.59,431.95 534.06,431.94 536.54,431.93 539.01,431.92 541.49,431.91 543.96,431.90 546.44,431.89 548.91,431.89 551.39,431.88" stroke="#ff3cb4" stroke-width="1.6" stroke-dasharray="5.9 1.6" fill="none"/>
<polyline points="81.06,736.63 83.54,721.04 86.01,706.53 88.49,693.05 90.96,680.50 93.44,668.81 95.91,657.91 98.39,647.73 100.87,638.21 103.34,629.30 105.82,620.94 108.29,613.09 110.77,605.71 113.24,598.76 115.72,592.21 118.19,586.02 120.67,580.17 123.14,574.64 125.62,569.40 128.09,564.43 130.57,559.71 133.05,555.22 135.52,550.96 138.00,546.89 140.47,543.02 142.95,539.33 145.42,535.81 147.90,532.44 150.37,529.22 152.85,526.14 155.32,523.19 157.80,520.37 160.28,517.66 162.75,515.07 165.23,512.57 167.70,510.18 170.18,507.88 172.65,505.67 175.13,503.54 177.60,501.49 180.08,499.52 182.55,497.62 185.03,495.79 187.50,494.03 189.98,492.33 192.46,490.68 194.93,489.10 197.41,487.57 199.88,486.09 202.36,484.66 204.83,483.28 207.31,481.94 209.78,480.64 212.26,479.39 214.73,478.18 217.21,477.01 219.68,475.87 222.16,474.77 224.64,473.70 227.11,472.66 229.59,471.66 232.06,470.69 234.54,469.74 237.01,468.82 239.49,467.93 241.96,467.07 244.44,466.23 246.91,465.41 249.39,464.62 251.86,463.85 254.34,463.10 256.82,462.37 259.29,461.66 261.77,460.97 264.24,460.30 266.72,459.65 269.19,459.02 271.67,458.40 274.14,457.80 276.62,457.21 279.09,456.64 281.57,456.09 284.05,455.55 286.52,455.02 289.00,454.51 291.47,454.00 293.95,453.52 296.42,453.04 298.90,452.58 301.37,452.12 303.85,451.68 306.32,451.25 308.80,450.83 311.27,450.42 313.75,450.02 316.23,449.63 318.70,449.25 321.18,448.88 323.65,448.52 326.13,448.16 328.60,447.81 331.08,447.48 333.55,447.15 336.03,446.82 338.50,446.51 340.98,446.20 343.45,445.90 345.93,445.60 348.41,445.32 350.88,445.03 353.36,444.76 355.83,444.49 358.31,444.23 360.78,443.97 363.26,443.72 365.73,443.48 368.21,443.23 370.68,443.00 373.16,442.77 375.63,442.54 378.11,442.32 380.59,442.11 383.06,441.90 385.54,441.69 388.01,441.49 390.49,441.29 392.96,441.10 395.44,440.91 397.91,440.72 400.39,440.54 402.86,440.37 405.34,440.19 407.82,440.02 410.29,439.85 412.77,439.69 415.24,439.53 417.72,439.37 420.19,439.22 422.67,439.07 425.14,438.92 427.62,438.78 430.09,438.64 432.57,438.50 435.04,438.36 437.52,438.23 440.00,438.10 442.47,437.97 444.95,437.84 447.42,437.72 449.90,437.60 452.37,437.48 454.85,437.37 457.32,437.25 459.80,437.14 462.27,437.03 464.75,436.93 467.22,436.82 469.70,436.72 472.18,436.62 474.65,436.52 477.13,436.42 479.60,436.33 482.08,436.23 484.55,436.14 487.03,436.05 489.50,435.96 491.98,435.88 494.45,435.79 496.93,435.71 499.40,435.63 501.88,435.55 504.36,435.47 506.83,435.39 509.31,435.31 511.78,435.24 514.26,435.17 516.73,435.10 519.21,435.03 521.68,434.96 524.16,434.89 526.63,434.82 529.11,434.76 531.59,434.69 534.06,434.63 536.54,434.57 539.01,434.51 541.49,434.45 543.96,434.39 546.44,434.33 548.91,434.28 551.39,434.22" stroke="#64ffff" stroke-width="1.6" stroke-dasharray="5.9 1.6" fill="none"/>
<polyline points="81.06,692.92 83.54,675.08 86.01,659.10 88.49,644.70 90.96,631.66 93.44,619.80 95.91,608.96 98.39,599.02 100.87,589.85 103.34,581.38 105.82,573.52 108.29,566.22 110.77,559.41 113.24,553.04 115.72,547.08 118.19,541.50 120.67,536.25 123.14,531.31 125.62,526.65 128.09,522.26 130.57,518.12 133.05,514.20 135.52,510.49 138.00,506.97 140.47,503.65 142.95,500.49 145.42,497.49 147.90,494.64 150.37,491.94 152.85,489.37 155.32,486.92 157.80,484.59 160.28,482.37 162.75,480.26 165.23,478.25 167.70,476.33 170.18,474.50 172.65,472.75 175.13,471.09 177.60,469.50 180.08,467.98 182.55,466.53 185.03,465.14 187.50,463.82 189.98,462.56 192.46,461.35 194.93,460.19 197.41,459.08 199.88,458.02 202.36,457.01 204.83,456.04 207.31,455.11 209.78,454.22 212.26,453.37 214.73,452.56 217.21,451.77 219.68,451.03 222.16,450.31 224.64,449.62 227.11,448.96 229.59,448.33 232.06,447.72 234.54,447.14 237.01,446.58 239.49,446.04 241.96,445.53 244.44,445.03 246.91,444.56 249.39,444.10 251.86,443.66 254.34,443.24 256.82,442.84 259.29,442.45 261.77,442.08 264.24,441.72 266.72,441.37 269.19,441.04 271.67,440.72 274.14,440.41 276.62,440.12 279.09,439.83 281.57,439.56 284.05,439.30 286.52,439.04 289.00,438.80 291.47,438.56 293.95,438.33 296.42,438.12 298.90,437.91 301.37,437.70 303.85,437.51 306.32,437.32 308.80,437.14 311.27,436.96 313.75,436.79 316.23,436.63 318.70,436.47 321.18,436.32 323.65,436.17 326.13,436.03 328.60,435.89 331.08,435.76 333.55,435.63 336.03,435.51 338.50,435.39 340.98,435.28 343.45,435.16 345.93,435.06 348.41,434.95 350.88,434.85 353.36,434.76 355.83,434.66 358.31,434.57 360.78,434.48 363.26,434.40 365.73,434.31 368.21,434.24 370.68,434.16 373.16,434.08 375.63,434.01 378.11,433.94 380.59,433.87 383.06,433.81 385.54,433.74 388.01,433.68 390.49,433.62 392.96,433.56 395.44,433.51 397.91,433.45 400.39,433.40 402.86,433.35 405.34,433.30 407.82,433.25 410.29,433.20 412.77,433.16 415.24,433.12 417.72,433.07 420.19,433.03 422.67,432.99 425.14,432.95 427.62,432.91 430.09,432.88 432.57,432.84 435.04,432.81 437.52,432.77 440.00,432.74 442.47,432.71 444.95,432.68 447.42,432.65 449.90,432.62 452.37,432.59 454.85,432.56 457.32,432.53 459.80,432.51 462.27,432.48 464.75,432.46 467.22,432.43 469.70,432.41 472.18,432.39 474.65,432.36 477.13,432.34 479.60,432.32 482.08,432.30 484.55,432.28 487.03,432.26 489.50,432.24 491.98,432.22 494.45,432.21 496.93,432.19 499.40,432.17 501.88,432.15 504.36,432.14 506.83,432.12 509.31,432.11 511.78,432.09 514.26,432.08 516.73,432.06 519.21,432.05 521.68,432.04 524.16,432.02 526.63,432.01 529.11,432.00 531.59,431.99 534.06,431.97 536.54,431.96 539.01,431.95 541.49,431.94 543.96,431.93 546.44,431.92 548.91,431.91 551.39,431.90" stroke="#a040f0" stroke-width="1.6" stroke-dasharray="5.9 1.6" fill="none"/>
<polyline points="81.06,731.40 83.54,716.09 86.01,701.75 88.49,688.35 90.96,675.84 93.44,664.18 95.91,653.30 98.39,643.16 100.87,633.70 103.34,624.87 105.82,616.61 108.29,608.90 110.77,601.67 113.24,594.90 115.72,588.55 118.19,582.59 120.67,576.98 123.14,571.70 125.62,566.72 128.09,562.02 130.57,557.58 133.05,553.39 135.52,549.41 138.00,545.65 140.47,542.07 142.95,538.68 145.42,535.45 147.90,532.38 150.37,529.45 152.85,526.66 155.32,524.00 157.80,521.45 160.28,519.02 162.75,516.69 165.23,514.46 167.70,512.32 170.18,510.26 172.65,508.29 175.13,506.40 177.60,504.58 180.08,502.83 182.55,501.14 185.03,499.52 187.50,497.95 189.98,496.44 192.46,494.98 194.93,493.56 197.41,492.20 199.88,490.88 202.36,489.61 204.83,488.37 207.31,487.17 209.78,486.01 212.26,484.89 214.73,483.80 217.21,482.74 219.68,481.71 222.16,480.71 224.64,479.74 227.11,478.80 229.59,477.88 232.06,476.98 234.54,476.11 237.01,475.27 239.49,474.44 241.96,473.64 244.44,472.85 246.91,472.09 249.39,471.34 251.86,470.61 254.34,469.90 256.82,469.21 259.29,468.53 261.77,467.86 264.24,467.22 266.72,466.58 269.19,465.96 271.67,465.36 274.14,464.77 276.62,464.19 279.09,463.62 281.57,463.06 284.05,462.52 286.52,461.99 289.00,461.46 291.47,460.95 293.95,460.45 296.42,459.96 298.90,459.48 301.37,459.01 303.85,458.54 306.32,458.09 308.80,457.64 311.27,457.20 313.75,456.77 316.23,456.35 318.70,455.94 321.18,455.53 323.65,455.13 326.13,454.74 328.60,454.36 331.08,453.98 333.55,453.61 336.03,453.24 338.50,452.88 340.98,452.53 343.45,452.18 345.93,451.84 348.41,451.51 350.88,451.18 353.36,450.86 355.83,450.54 358.31,450.22 360.78,449.92 363.26,449.61 365.73,449.32 368.21,449.02 370.68,448.73 373.16,448.45 375.63,448.17 378.11,447.90 380.59,447.62 383.06,447.36 385.54,447.10 388.01,446.84 390.49,446.58 392.96,446.33 395.44,446.09 397.91,445.85 400.39,445.61 402.86,445.37 405.34,445.14 407.82,444.91 410.29,444.69 412.77,444.47 415.24,444.25 417.72,444.04 420.19,443.83 422.67,443.62 425.14,443.41 427.62,443.21 430.09,443.01 432.57,442.82 435.04,442.63 437.52,442.44 440.00,442.25 442.47,442.07 444.95,441.88 447.42,441.71 449.90,441.53 452.37,441.36 454.85,441.19 457.32,441.02 459.80,440.85 462.27,440.69 464.75,440.53 467.22,440.37 469.70,440.22 472.18,440.06 474.65,439.91 477.13,439.76 479.60,439.61 482.08,439.47 484.55,439.33 487.03,439.19 489.50,439.05 491.98,438.91 494.45,438.78 496.93,438.65 499.40,438.52 501.88,438.39 504.36,438.26 506.83,438.14 509.31,438.02 511.78,437.90 514.26,437.78 516.73,437.66 519.21,437.54 521.68,437.43 524.16,437.32 526.63,437.21 529.11,437.10 531.59,436.99 534.06,436.89 536.54,436.78 539.01,436.68 541.49,436.58 543.96,436.48 546.44,436.39 548.91,436.29 551.39,436.20" stroke="#e8a03c" stroke-width="1.6" stroke-dasharray="5.9 1.6" fill="none"/>
<polyline points="81.06,706.62 83.54,691.83 86.01,677.85 88.49,664.66 90.96,652.22 93.44,640.49 95.91,629.45 98.39,619.05 100.87,609.26 103.34,600.05 105.82,591.37 108.29,583.20 110.77,575.51 113.24,568.27 115.72,561.45 118.19,555.02 120.67,548.96 123.14,543.25 125.62,537.87 128.09,532.78 130.57,527.99 133.05,523.46 135.52,519.18 138.00,515.14 140.47,511.32 142.95,507.71 145.42,504.29 147.90,501.05 150.37,497.99 152.85,495.08 155.32,492.33 157.80,489.73 160.28,487.25 162.75,484.90 165.23,482.68 167.70,480.56 170.18,478.55 172.65,476.64 175.13,474.82 177.60,473.09 180.08,471.45 182.55,469.88 185.03,468.39 187.50,466.97 189.98,465.62 192.46,464.32 194.93,463.09 197.41,461.92 199.88,460.80 202.36,459.72 204.83,458.70 207.31,457.72 209.78,456.79 212.26,455.89 214.73,455.04 217.21,454.22 219.68,453.43 222.16,452.68 224.64,451.97 227.11,451.28 229.59,450.62 232.06,449.98 234.54,449.37 237.01,448.79 239.49,448.23 241.96,447.69 244.44,447.18 246.91,446.68 249.39,446.21 251.86,445.75 254.34,445.31 256.82,444.88 259.29,444.48 261.77,444.08 264.24,443.71 266.72,443.34 269.19,442.99 271.67,442.65 274.14,442.33 276.62,442.02 279.09,441.71 281.57,441.42 284.05,441.14 286.52,440.87 289.00,440.61 291.47,440.35 293.95,440.11 296.42,439.87 298.90,439.65 301.37,439.43 303.85,439.21 306.32,439.01 308.80,438.81 311.27,438.61 313.75,438.43 316.23,438.25 318.70,438.07 321.18,437.90 323.65,437.74 326.13,437.58 328.60,437.43 331.08,437.28 333.55,437.13 336.03,436.99 338.50,436.86 340.98,436.73 343.45,436.60 345.93,436.48 348.41,436.36 350.88,436.24 353.36,436.13 355.83,436.02 358.31,435.91 360.78,435.80 363.26,435.70 365.73,435.61 368.21,435.51 370.68,435.42 373.16,435.33 375.63,435.24 378.11,435.16 380.59,435.07 383.06,434.99 385.54,434.92 388.01,434.84 390.49,434.76 392.96,434.69 395.44,434.62 397.91,434.55 400.39,434.49 402.86,434.42 405.34,434.36 407.82,434.30 410.29,434.24 412.77,434.18 415.24,434.12 417.72,434.07 420.19,434.01 422.67,433.96 425.14,433.91 427.62,433.86 430.09,433.81 432.57,433.76 435.04,433.71 437.52,433.67 440.00,433.62 442.47,433.58 444.95,433.54 447.42,433.50 449.90,433.45 452.37,433.41 454.85,433.38 457.32,433.34 459.80,433.30 462.27,433.27 464.75,433.23 467.22,433.20 469.70,433.16 472.18,433.13 474.65,433.10 477.13,433.06 479.60,433.03 482.08,433.00 484.55,432.97 487.03,432.95 489.50,432.92 491.98,432.89 494.45,432.86 496.93,432.84 499.40,432.81 501.88,432.78 504.36,432.76 506.83,432.73 509.31,432.71 511.78,432.69 514.26,432.66 516.73,432.64 519.21,432.62 521.68,432.60 524.16,432.58 526.63,432.56 529.11,432.54 531.59,432.52 534.06,432.50 536.54,432.48 539.01,432.46 541.49,432.44 543.96,432.42 546.44,432.40 548.91,432.39 551.39,432.37" stroke="#3cff28" stroke-width="1.6" stroke-dasharray="5.9 1.6" fill="none"/>
<polyline points="81.06,708.15 83.54,695.81 86.01,683.70 88.49,671.94 90.96,660.59 93.44,649.71 95.91,639.30 98.39,629.39 100.87,619.96 103.34,611.01 105.82,602.54 108.29,594.52 110.77,586.93 113.24,579.76 115.72,572.99 118.19,566.59 120.67,560.55 123.14,554.84 125.62,549.45 128.09,544.35 130.57,539.54 133.05,534.99 135.52,530.69 138.00,526.62 140.47,522.76 142.95,519.12 145.42,515.66 147.90,512.38 150.37,509.28 152.85,506.33 155.32,503.53 157.80,500.88 160.28,498.35 162.75,495.95 165.23,493.66 167.70,491.49 170.18,489.42 172.65,487.44 175.13,485.56 177.60,483.76 180.08,482.04 182.55,480.41 185.03,478.84 187.50,477.34 189.98,475.91 192.46,474.54 194.93,473.22 197.41,471.96 199.88,470.76 202.36,469.60 204.83,468.49 207.31,467.42 209.78,466.39 212.26,465.41 214.73,464.46 217.21,463.55 219.68,462.67 222.16,461.83 224.64,461.01 227.11,460.23 229.59,459.47 232.06,458.74 234.54,458.04 237.01,457.36 239.49,456.70 241.96,456.07 244.44,455.46 246.91,454.86 249.39,454.29 251.86,453.73 254.34,453.20 256.82,452.68 259.29,452.17 261.77,451.69 264.24,451.21 266.72,450.75 269.19,450.31 271.67,449.88 274.14,449.46 276.62,449.05 279.09,448.66 281.57,448.27 284.05,447.90 286.52,447.54 289.00,447.18 291.47,446.84 293.95,446.51 296.42,446.18 298.90,445.87 301.37,445.56 303.85,445.26 306.32,444.97 308.80,444.68 311.27,444.41 313.75,444.14 316.23,443.87 318.70,443.62 321.18,443.37 323.65,443.12 326.13,442.88 328.60,442.65 331.08,442.42 333.55,442.20 336.03,441.98 338.50,441.77 340.98,441.56 343.45,441.36 345.93,441.17 348.41,440.97 350.88,440.78 353.36,440.60 355.83,440.42 358.31,440.24 360.78,440.07 363.26,439.90 365.73,439.73 368.21,439.57 370.68,439.41 373.16,439.26 375.63,439.11 378.11,438.96 380.59,438.81 383.06,438.67 385.54,438.53 388.01,438.39 390.49,438.26 392.96,438.13 395.44,438.00 397.91,437.87 400.39,437.75 402.86,437.63 405.34,437.51 407.82,437.39 410.29,437.27 412.77,437.16 415.24,437.05 417.72,436.94 420.19,436.84 422.67,436.73 425.14,436.63 427.62,436.53 430.09,436.43 432.57,436.34 435.04,436.24 437.52,436.15 440.00,436.06 442.47,435.97 444.95,435.88 447.42,435.79 449.90,435.71 452.37,435.62 454.85,435.54 457.32,435.46 459.80,435.38 462.27,435.30 464.75,435.23 467.22,435.15 469.70,435.08 472.18,435.01 474.65,434.94 477.13,434.87 479.60,434.80 482.08,434.73 484.55,434.66 487.03,434.60 489.50,434.53 491.98,434.47 494.45,434.41 496.93,434.35 499.40,434.29 501.88,434.23 504.36,434.17 506.83,434.12 509.31,434.06 511.78,434.00 514.26,433.95 516.73,433.90 519.21,433.85 521.68,433.79 524.16,433.74 526.63,433.69 529.11,433.65 531.59,433.60 534.06,433.55 536.54,433.50 539.01,433.46 541.49,433.41 543.96,433.37 546.44,433.33 548.91,433.28 551.39,433.24" stroke="#329632" stroke-width="1.6" stroke-dasharray="5.9 1.6" fill="none"/>
<polyline points="81.06,711.86 83.54,696.32 86.01,681.85 88.49,668.41 90.96,655.93 93.44,644.34 95.91,633.57 98.39,623.55 100.87,614.23 103.34,605.56 105.82,597.47 108.29,589.92 110.77,582.86 113.24,576.26 115.72,570.08 118.19,564.28 120.67,558.84 123.14,553.72 125.62,548.90 128.09,544.37 130.57,540.09 133.05,536.05 135.52,532.23 138.00,528.61 140.47,525.19 142.95,521.94 145.42,518.85 147.90,515.92 150.37,513.14 152.85,510.49 155.32,507.96 157.80,505.55 160.28,503.25 162.75,501.05 165.23,498.96 167.70,496.95 170.18,495.02 172.65,493.18 175.13,491.42 177.60,489.72 180.08,488.10 182.55,486.53 185.03,485.03 187.50,483.59 189.98,482.20 192.46,480.86 194.93,479.57 197.41,478.33 199.88,477.13 202.36,475.97 204.83,474.85 207.31,473.77 209.78,472.73 212.26,471.72 214.73,470.75 217.21,469.80 219.68,468.89 222.16,468.00 224.64,467.15 227.11,466.31 229.59,465.51 232.06,464.73 234.54,463.97 237.01,463.23 239.49,462.52 241.96,461.82 244.44,461.14 246.91,460.49 249.39,459.85 251.86,459.23 254.34,458.63 256.82,458.04 259.29,457.47 261.77,456.91 264.24,456.37 266.72,455.84 269.19,455.32 271.67,454.82 274.14,454.33 276.62,453.85 279.09,453.39 281.57,452.93 284.05,452.49 286.52,452.06 289.00,451.63 291.47,451.22 293.95,450.82 296.42,450.43 298.90,450.04 301.37,449.67 303.85,449.30 306.32,448.94 308.80,448.59 311.27,448.25 313.75,447.91 316.23,447.58 318.70,447.26 321.18,446.95 323.65,446.64 326.13,446.34 328.60,446.05 331.08,445.76 333.55,445.48 336.03,445.20 338.50,444.93 340.98,444.67 343.45,444.41 345.93,444.16 348.41,443.91 350.88,443.66 353.36,443.43 355.83,443.19 358.31,442.96 360.78,442.74 363.26,442.52 365.73,442.30 368.21,442.09 370.68,441.88 373.16,441.68 375.63,441.48 378.11,441.29 380.59,441.09 383.06,440.91 385.54,440.72 388.01,440.54 390.49,440.36 392.96,440.19 395.44,440.02 397.91,439.85 400.39,439.69 402.86,439.53 405.34,439.37 407.82,439.21 410.29,439.06 412.77,438.91 415.24,438.76 417.72,438.62 420.19,438.48 422.67,438.34 425.14,438.20 427.62,438.07 430.09,437.94 432.57,437.81 435.04,437.68 437.52,437.56 440.00,437.43 442.47,437.31 444.95,437.20 447.42,437.08 449.90,436.97 452.37,436.86 454.85,436.75 457.32,436.64 459.80,436.53 462.27,436.43 464.75,436.33 467.22,436.23 469.70,436.13 472.18,436.03 474.65,435.94 477.13,435.85 479.60,435.76 482.08,435.67 484.55,435.58 487.03,435.49 489.50,435.41 491.98,435.32 494.45,435.24 496.93,435.16 499.40,435.08 501.88,435.00 504.36,434.93 506.83,434.85 509.31,434.78 511.78,434.71 514.26,434.64 516.73,434.57 519.21,434.50 521.68,434.43 524.16,434.36 526.63,434.30 529.11,434.24 531.59,434.17 534.06,434.11 536.54,434.05 539.01,433.99 541.49,433.93 543.96,433.88 546.44,433.82 548.91,433.77 551.39,433.71" stroke="#3232ff" stroke-width="1.6" stroke-dasharray="5.9 1.6" fill="none"/>
<polyline points="81.06,706.93 83.54,693.11 86.01,679.85 88.49,667.18 90.96,655.12 93.44,643.65 95.91,632.77 98.39,622.47 100.87,612.71 103.34,603.49 105.82,594.78 108.29,586.55 110.77,578.77 113.24,571.44 115.72,564.51 118.19,557.98 120.67,551.81 123.14,545.99 125.62,540.49 128.09,535.30 130.57,530.40 133.05,525.77 135.52,521.40 138.00,517.26 140.47,513.36 142.95,509.66 145.42,506.16 147.90,502.85 150.37,499.72 152.85,496.75 155.32,493.94 157.80,491.27 160.28,488.74 162.75,486.34 165.23,484.07 167.70,481.91 170.18,479.85 172.65,477.90 175.13,476.05 177.60,474.28 180.08,472.60 182.55,471.01 185.03,469.49 187.50,468.04 189.98,466.65 192.46,465.34 194.93,464.08 197.41,462.88 199.88,461.74 202.36,460.65 204.83,459.60 207.31,458.61 209.78,457.65 212.26,456.74 214.73,455.87 217.21,455.03 219.68,454.23 222.16,453.47 224.64,452.73 227.11,452.03 229.59,451.36 232.06,450.71 234.54,450.09 237.01,449.49 239.49,448.92 241.96,448.37 244.44,447.84 246.91,447.34 249.39,446.85 251.86,446.38 254.34,445.93 256.82,445.50 259.29,445.08 261.77,444.68 264.24,444.29 266.72,443.91 269.19,443.55 271.67,443.21 274.14,442.87 276.62,442.55 279.09,442.24 281.57,441.94 284.05,441.65 286.52,441.37 289.00,441.10 291.47,440.84 293.95,440.58 296.42,440.34 298.90,440.10 301.37,439.88 303.85,439.66 306.32,439.44 308.80,439.24 311.27,439.03 313.75,438.84 316.23,438.65 318.70,438.47 321.18,438.30 323.65,438.12 326.13,437.96 328.60,437.80 331.08,437.64 333.55,437.49 336.03,437.35 338.50,437.20 340.98,437.07 343.45,436.93 345.93,436.80 348.41,436.67 350.88,436.55 353.36,436.43 355.83,436.32 358.31,436.20 360.78,436.10 363.26,435.99 365.73,435.89 368.21,435.78 370.68,435.69 373.16,435.59 375.63,435.50 378.11,435.41 380.59,435.32 383.06,435.23 385.54,435.15 388.01,435.07 390.49,434.99 392.96,434.91 395.44,434.84 397.91,434.77 400.39,434.69 402.86,434.62 405.34,434.56 407.82,434.49 410.29,434.43 412.77,434.36 415.24,434.30 417.72,434.24 420.19,434.18 422.67,434.13 425.14,434.07 427.62,434.02 430.09,433.96 432.57,433.91 435.04,433.86 437.52,433.81 440.00,433.76 442.47,433.71 444.95,433.67 447.42,433.62 449.90,433.58 452.37,433.54 454.85,433.49 457.32,433.45 459.80,433.41 462.27,433.37 464.75,433.33 467.22,433.30 469.70,433.26 472.18,433.22 474.65,433.19 477.13,433.15 479.60,433.12 482.08,433.08 484.55,433.05 487.03,433.02 489.50,432.99 491.98,432.96 494.45,432.93 496.93,432.90 499.40,432.87 501.88,432.84 504.36,432.81 506.83,432.79 509.31,432.76 511.78,432.73 514.26,432.71 516.73,432.68 519.21,432.66 521.68,432.63 524.16,432.61 526.63,432.59 529.11,432.56 531.59,432.54 534.06,432.52 536.54,432.50 539.01,432.48 541.49,432.46 543.96,432.44 546.44,432.42 548.91,432.40 551.39,432.38" stroke="#46c8ff" stroke-width="1.6" stroke-dasharray="5.9 1.6" fill="none"/>
<polyline points="81.06,699.80 83.54,684.22 86.01,669.73 88.49,656.25 90.96,643.70 93.44,632.02 95.91,621.14 98.39,611.00 100.87,601.55 103.34,592.73 105.82,584.49 108.29,576.78 110.77,569.57 113.24,562.82 115.72,556.49 118.19,550.55 120.67,544.97 123.14,539.73 125.62,534.79 128.09,530.15 130.57,525.77 133.05,521.64 135.52,517.75 138.00,514.07 140.47,510.59 142.95,507.29 145.42,504.18 147.90,501.22 150.37,498.42 152.85,495.77 155.32,493.24 157.80,490.85 160.28,488.57 162.75,486.40 165.23,484.34 167.70,482.38 170.18,480.51 172.65,478.72 175.13,477.02 177.60,475.39 180.08,473.84 182.55,472.36 185.03,470.94 187.50,469.59 189.98,468.29 192.46,467.05 194.93,465.86 197.41,464.72 199.88,463.63 202.36,462.58 204.83,461.57 207.31,460.61 209.78,459.68 212.26,458.79 214.73,457.94 217.21,457.12 219.68,456.33 222.16,455.57 224.64,454.83 227.11,454.13 229.59,453.45 232.06,452.80 234.54,452.17 237.01,451.56 239.49,450.97 241.96,450.41 244.44,449.86 246.91,449.34 249.39,448.83 251.86,448.34 254.34,447.87 256.82,447.41 259.29,446.97 261.77,446.54 264.24,446.13 266.72,445.73 269.19,445.34 271.67,444.96 274.14,444.60 276.62,444.25 279.09,443.91 281.57,443.58 284.05,443.26 286.52,442.95 289.00,442.65 291.47,442.36 293.95,442.08 296.42,441.81 298.90,441.54 301.37,441.29 303.85,441.04 306.32,440.80 308.80,440.56 311.27,440.33 313.75,440.11 316.23,439.90 318.70,439.69 321.18,439.48 323.65,439.29 326.13,439.09 328.60,438.91 331.08,438.72 333.55,438.55 336.03,438.38 338.50,438.21 340.98,438.05 343.45,437.89 345.93,437.73 348.41,437.58 350.88,437.44 353.36,437.30 355.83,437.16 358.31,437.02 360.78,436.89 363.26,436.76 365.73,436.64 368.21,436.52 370.68,436.40 373.16,436.28 375.63,436.17 378.11,436.06 380.59,435.95 383.06,435.85 385.54,435.75 388.01,435.65 390.49,435.55 392.96,435.46 395.44,435.36 397.91,435.27 400.39,435.19 402.86,435.10 405.34,435.02 407.82,434.94 410.29,434.86 412.77,434.78 415.24,434.70 417.72,434.63 420.19,434.55 422.67,434.48 425.14,434.41 427.62,434.35 430.09,434.28 432.57,434.22 435.04,434.15 437.52,434.09 440.00,434.03 442.47,433.97 444.95,433.91 447.42,433.86 449.90,433.80 452.37,433.75 454.85,433.69 457.32,433.64 459.80,433.59 462.27,433.54 464.75,433.49 467.22,433.45 469.70,433.40 472.18,433.35 474.65,433.31 477.13,433.27 479.60,433.22 482.08,433.18 484.55,433.14 487.03,433.10 489.50,433.06 491.98,433.02 494.45,432.99 496.93,432.95 499.40,432.91 501.88,432.88 504.36,432.84 506.83,432.81 509.31,432.78 511.78,432.75 514.26,432.71 516.73,432.68 519.21,432.65 521.68,432.62 524.16,432.59 526.63,432.56 529.11,432.54 531.59,432.51 534.06,432.48 536.54,432.45 539.01,432.43 541.49,432.40 543.96,432.38 546.44,432.35 548.91,432.33 551.39,432.31" stroke="#c8c83c" stroke-width="1.6" stroke-dasharray="5.9 1.6" fill="none"/>
<polyline points="81.06,676.42 83.54,657.56 86.01,640.88 88.49,626.04 90.96,612.75 93.44,600.79 95.91,589.95 98.39,580.09 100.87,571.07 103.34,562.80 105.82,555.17 108.29,548.13 110.77,541.61 113.24,535.55 115.72,529.90 118.19,524.64 120.67,519.71 123.14,515.11 125.62,510.79 128.09,506.73 130.57,502.92 133.05,499.34 135.52,495.96 138.00,492.78 140.47,489.78 142.95,486.95 145.42,484.27 147.90,481.74 150.37,479.35 152.85,477.08 155.32,474.94 157.80,472.91 160.28,470.99 162.75,469.17 165.23,467.44 167.70,465.80 170.18,464.24 172.65,462.77 175.13,461.36 177.60,460.03 180.08,458.77 182.55,457.56 185.03,456.42 187.50,455.33 189.98,454.30 192.46,453.31 194.93,452.38 197.41,451.49 199.88,450.64 202.36,449.83 204.83,449.06 207.31,448.33 209.78,447.63 212.26,446.96 214.73,446.33 217.21,445.72 219.68,445.14 222.16,444.59 224.64,444.07 227.11,443.56 229.59,443.09 232.06,442.63 234.54,442.19 237.01,441.77 239.49,441.37 241.96,440.99 244.44,440.63 246.91,440.28 249.39,439.95 251.86,439.63 254.34,439.32 256.82,439.03 259.29,438.75 261.77,438.49 264.24,438.23 266.72,437.99 269.19,437.75 271.67,437.53 274.14,437.31 276.62,437.10 279.09,436.91 281.57,436.72 284.05,436.53 286.52,436.36 289.00,436.19 291.47,436.03 293.95,435.88 296.42,435.73 298.90,435.59 301.37,435.45 303.85,435.32 306.32,435.19 308.80,435.07 311.27,434.95 313.75,434.84 316.23,434.73 318.70,434.63 321.18,434.53 323.65,434.43 326.13,434.34 328.60,434.25 331.08,434.17 333.55,434.08 336.03,434.00 338.50,433.93 340.98,433.85 343.45,433.78 345.93,433.71 348.41,433.65 350.88,433.58 353.36,433.52 355.83,433.46 358.31,433.41 360.78,433.35 363.26,433.30 365.73,433.25 368.21,433.20 370.68,433.15 373.16,433.10 375.63,433.06 378.11,433.02 380.59,432.97 383.06,432.93 385.54,432.89 388.01,432.86 390.49,432.82 392.96,432.79 395.44,432.75 397.91,432.72 400.39,432.69 402.86,432.66 405.34,432.63 407.82,432.60 410.29,432.57 412.77,432.54 415.24,432.52 417.72,432.49 420.19,432.47 422.67,432.44 425.14,432.42 427.62,432.40 430.09,432.38 432.57,432.36 435.04,432.34 437.52,432.32 440.00,432.30 442.47,432.28 444.95,432.26 447.42,432.25 449.90,432.23 452.37,432.21 454.85,432.20 457.32,432.18 459.80,432.17 462.27,432.15 464.75,432.14 467.22,432.13 469.70,432.11 472.18,432.10 474.65,432.09 477.13,432.08 479.60,432.07 482.08,432.06 484.55,432.05 487.03,432.04 489.50,432.03 491.98,432.02 494.45,432.01 496.93,432.00 499.40,431.99 501.88,431.98 504.36,431.97 506.83,431.97 509.31,431.96 511.78,431.95 514.26,431.94 516.73,431.94 519.21,431.93 521.68,431.93 524.16,431.92 526.63,431.91 529.11,431.91 531.59,431.90 534.06,431.90 536.54,431.89 539.01,431.89 541.49,431.88 543.96,431.88 546.44,431.88 548.91,431.87 551.39,431.87" stroke="#ff3cff" stroke-width="1.6" stroke-dasharray="5.9 1.6" fill="none"/>
<polyline points="81.06,728.70 83.54,713.10 86.01,698.70 88.49,685.38 90.96,673.04 93.44,661.61 95.91,650.98 98.39,641.09 100.87,631.87 103.34,623.25 105.82,615.19 108.29,607.64 110.77,600.54 113.24,593.87 115.72,587.58 118.19,581.66 120.67,576.06 123.14,570.76 125.62,565.75 128.09,561.00 130.57,556.49 133.05,552.20 135.52,548.12 138.00,544.24 140.47,540.54 142.95,537.01 145.42,533.65 147.90,530.43 150.37,527.35 152.85,524.40 155.32,521.58 157.80,518.88 160.28,516.29 162.75,513.80 165.23,511.41 167.70,509.12 170.18,506.91 172.65,504.79 175.13,502.75 177.60,500.78 180.08,498.89 182.55,497.06 185.03,495.30 187.50,493.60 189.98,491.96 192.46,490.38 194.93,488.85 197.41,487.38 199.88,485.95 202.36,484.57 204.83,483.23 207.31,481.94 209.78,480.69 212.26,479.47 214.73,478.30 217.21,477.16 219.68,476.06 222.16,474.99 224.64,473.95 227.11,472.95 229.59,471.97 232.06,471.02 234.54,470.10 237.01,469.21 239.49,468.34 241.96,467.50 244.44,466.68 246.91,465.88 249.39,465.11 251.86,464.36 254.34,463.62 256.82,462.91 259.29,462.22 261.77,461.54 264.24,460.89 266.72,460.25 269.19,459.62 271.67,459.02 274.14,458.43 276.62,457.85 279.09,457.29 281.57,456.74 284.05,456.21 286.52,455.69 289.00,455.18 291.47,454.69 293.95,454.21 296.42,453.74 298.90,453.28 301.37,452.83 303.85,452.39 306.32,451.97 308.80,451.55 311.27,451.15 313.75,450.75 316.23,450.36 318.70,449.98 321.18,449.61 323.65,449.25 326.13,448.90 328.60,448.55 331.08,448.22 333.55,447.89 336.03,447.57 338.50,447.25 340.98,446.94 343.45,446.64 345.93,446.35 348.41,446.06 350.88,445.78 353.36,445.50 355.83,445.23 358.31,444.97 360.78,444.71 363.26,444.46 365.73,444.21 368.21,443.97 370.68,443.73 373.16,443.50 375.63,443.28 378.11,443.05 380.59,442.84 383.06,442.62 385.54,442.42 388.01,442.21 390.49,442.01 392.96,441.82 395.44,441.62 397.91,441.44 400.39,441.25 402.86,441.07 405.34,440.90 407.82,440.72 410.29,440.55 412.77,440.39 415.24,440.22 417.72,440.06 420.19,439.91 422.67,439.75 425.14,439.60 427.62,439.45 430.09,439.31 432.57,439.17 435.04,439.03 437.52,438.89 440.00,438.76 442.47,438.63 444.95,438.50 447.42,438.37 449.90,438.25 452.37,438.13 454.85,438.01 457.32,437.89 459.80,437.78 462.27,437.66 464.75,437.55 467.22,437.44 469.70,437.34 472.18,437.23 474.65,437.13 477.13,437.03 479.60,436.93 482.08,436.83 484.55,436.74 487.03,436.64 489.50,436.55 491.98,436.46 494.45,436.37 496.93,436.29 499.40,436.20 501.88,436.12 504.36,436.03 506.83,435.95 509.31,435.87 511.78,435.80 514.26,435.72 516.73,435.64 519.21,435.57 521.68,435.50 524.16,435.43 526.63,435.36 529.11,435.29 531.59,435.22 534.06,435.15 536.54,435.09 539.01,435.02 541.49,434.96 543.96,434.90 546.44,434.84 548.91,434.78 551.39,434.72" stroke="#000" stroke-width="2.2" fill="none"/>
</g>
<line x1="82.3" x2="552.6" y1="435.62" y2="435.62" stroke="#555" stroke-width="1.6"/>
<line x1="82.3" x2="552.6" y1="454.19" y2="454.19" stroke="#5a5a5a" stroke-width="1.7" stroke-dasharray="9.1 2.55" stroke-dashoffset="0.6"/>
<line x1="226.49" x2="226.49" y1="455.19" y2="709.5" stroke="#ff2020" stroke-width="1.8" stroke-dasharray="8 3"/>
<line x1="271.05" x2="271.05" y1="454.65" y2="709.5" stroke="#000" stroke-width="1.8" stroke-dasharray="8 3"/>
<line x1="289.86" x2="289.86" y1="454.19" y2="709.5" stroke="#bdbdbd" stroke-width="1.6" stroke-dasharray="8 3"/>
<line x1="377.62" x2="377.62" y1="435.62" y2="709.5" stroke="#ff2020" stroke-width="1.8"/>
<line x1="493.84" x2="493.84" y1="436.62" y2="709.5" stroke="#bdbdbd" stroke-width="1.6"/>
<line x1="506.34" x2="506.34" y1="436.62" y2="709.5" stroke="#000" stroke-width="1.8"/>
<text transform="translate(220.60,656.40) rotate(-90)" font-size="14.1" textLength="135.9" lengthAdjust="spacingAndGlyphs">R95p (CMIP6-MMM)</text>
<text transform="translate(267.00,625.50) rotate(-90)" font-size="14.1" textLength="81.3" lengthAdjust="spacingAndGlyphs">R95p (RS-R)</text>
<text transform="translate(304.00,630.70) rotate(-90)" font-size="14.1" textLength="93.8" lengthAdjust="spacingAndGlyphs">R95p (MSWX)</text>
<text transform="translate(371.60,656.80) rotate(-90)" font-size="14.1" textLength="138.7" lengthAdjust="spacingAndGlyphs">R99p (CMIP6-MMM)</text>
<text transform="translate(486.50,632.70) rotate(-90)" font-size="14.1" textLength="93.8" lengthAdjust="spacingAndGlyphs">R99p (MSWX)</text>
<text transform="translate(522.00,627.20) rotate(-90)" font-size="14.1" textLength="81.3" lengthAdjust="spacingAndGlyphs">R99p (RS-R)</text>
<rect x="82.5" y="426.5" width="470" height="283" fill="none" stroke="#444" stroke-width="1.1"/>
<line x1="72.5" x2="82.5" y1="709.50" y2="709.50" stroke="#4a4a4a" stroke-width="1.1"/>
<line x1="77.5" x2="82.5" y1="700.50" y2="700.50" stroke="#4a4a4a" stroke-width="1.1"/>
<line x1="77.5" x2="82.5" y1="690.50" y2="690.50" stroke="#4a4a4a" stroke-width="1.1"/>
<line x1="77.5" x2="82.5" y1="681.50" y2="681.50" stroke="#4a4a4a" stroke-width="1.1"/>
<line x1="77.5" x2="82.5" y1="672.50" y2="672.50" stroke="#4a4a4a" stroke-width="1.1"/>
<line x1="72.5" x2="82.5" y1="663.50" y2="663.50" stroke="#4a4a4a" stroke-width="1.1"/>
<line x1="77.5" x2="82.5" y1="653.50" y2="653.50" stroke="#4a4a4a" stroke-width="1.1"/>
<line x1="77.5" x2="82.5" y1="644.50" y2="644.50" stroke="#4a4a4a" stroke-width="1.1"/>
<line x1="77.5" x2="82.5" y1="635.50" y2="635.50" stroke="#4a4a4a" stroke-width="1.1"/>
<line x1="77.5" x2="82.5" y1="625.50" y2="625.50" stroke="#4a4a4a" stroke-width="1.1"/>
<line x1="72.5" x2="82.5" y1="616.50" y2="616.50" stroke="#4a4a4a" stroke-width="1.1"/>
<line x1="77.5" x2="82.5" y1="607.50" y2="607.50" stroke="#4a4a4a" stroke-width="1.1"/>
<line x1="77.5" x2="82.5" y1="598.50" y2="598.50" stroke="#4a4a4a" stroke-width="1.1"/>
<line x1="77.5" x2="82.5" y1="588.50" y2="588.50" stroke="#4a4a4a" stroke-width="1.1"/>
<line x1="77.5" x2="82.5" y1="579.50" y2="579.50" stroke="#4a4a4a" stroke-width="1.1"/>
<line x1="72.5" x2="82.5" y1="570.50" y2="570.50" stroke="#4a4a4a" stroke-width="1.1"/>
<line x1="77.5" x2="82.5" y1="560.50" y2="560.50" stroke="#4a4a4a" stroke-width="1.1"/>
<line x1="77.5" x2="82.5" y1="551.50" y2="551.50" stroke="#4a4a4a" stroke-width="1.1"/>
<line x1="77.5" x2="82.5" y1="542.50" y2="542.50" stroke="#4a4a4a" stroke-width="1.1"/>
<line x1="77.5" x2="82.5" y1="533.50" y2="533.50" stroke="#4a4a4a" stroke-width="1.1"/>
<line x1="72.5" x2="82.5" y1="523.50" y2="523.50" stroke="#4a4a4a" stroke-width="1.1"/>
<line x1="77.5" x2="82.5" y1="514.50" y2="514.50" stroke="#4a4a4a" stroke-width="1.1"/>
<line x1="77.5" x2="82.5" y1="505.50" y2="505.50" stroke="#4a4a4a" stroke-width="1.1"/>
<line x1="77.5" x2="82.5" y1="495.50" y2="495.50" stroke="#4a4a4a" stroke-width="1.1"/>
<line x1="77.5" x2="82.5" y1="486.50" y2="486.50" stroke="#4a4a4a" stroke-width="1.1"/>
<line x1="72.5" x2="82.5" y1="477.50" y2="477.50" stroke="#4a4a4a" stroke-width="1.1"/>
<line x1="77.5" x2="82.5" y1="468.50" y2="468.50" stroke="#4a4a4a" stroke-width="1.1"/>
<line x1="77.5" x2="82.5" y1="458.50" y2="458.50" stroke="#4a4a4a" stroke-width="1.1"/>
<line x1="77.5" x2="82.5" y1="449.50" y2="449.50" stroke="#4a4a4a" stroke-width="1.1"/>
<line x1="77.5" x2="82.5" y1="440.50" y2="440.50" stroke="#4a4a4a" stroke-width="1.1"/>
<line x1="72.5" x2="82.5" y1="430.50" y2="430.50" stroke="#4a4a4a" stroke-width="1.1"/>
<text x="60.4" y="716.10" font-size="16.4" text-anchor="end">40</text>
<text x="60.4" y="669.68" font-size="16.4" text-anchor="end">50</text>
<text x="60.4" y="623.26" font-size="16.4" text-anchor="end">60</text>
<text x="60.4" y="576.84" font-size="16.4" text-anchor="end">70</text>
<text x="60.4" y="530.42" font-size="16.4" text-anchor="end">80</text>
<text x="60.4" y="484.00" font-size="16.4" text-anchor="end">90</text>
<text x="60.4" y="437.58" font-size="16.4" text-anchor="end">100</text>
<line x1="82.50" x2="82.50" y1="709.5" y2="714.5" stroke="#4a4a4a" stroke-width="1.1"/>
<line x1="94.50" x2="94.50" y1="709.5" y2="714.5" stroke="#4a4a4a" stroke-width="1.1"/>
<line x1="107.50" x2="107.50" y1="709.5" y2="714.5" stroke="#4a4a4a" stroke-width="1.1"/>
<line x1="119.50" x2="119.50" y1="709.5" y2="719.5" stroke="#4a4a4a" stroke-width="1.1"/>
<line x1="131.50" x2="131.50" y1="709.5" y2="714.5" stroke="#4a4a4a" stroke-width="1.1"/>
<line x1="144.50" x2="144.50" y1="709.5" y2="714.5" stroke="#4a4a4a" stroke-width="1.1"/>
<line x1="156.50" x2="156.50" y1="709.5" y2="714.5" stroke="#4a4a4a" stroke-width="1.1"/>
<line x1="168.50" x2="168.50" y1="709.5" y2="714.5" stroke="#4a4a4a" stroke-width="1.1"/>
<line x1="181.50" x2="181.50" y1="709.5" y2="719.5" stroke="#4a4a4a" stroke-width="1.1"/>
<line x1="193.50" x2="193.50" y1="709.5" y2="714.5" stroke="#4a4a4a" stroke-width="1.1"/>
<line x1="206.50" x2="206.50" y1="709.5" y2="714.5" stroke="#4a4a4a" stroke-width="1.1"/>
<line x1="218.50" x2="218.50" y1="709.5" y2="714.5" stroke="#4a4a4a" stroke-width="1.1"/>
<line x1="230.50" x2="230.50" y1="709.5" y2="714.5" stroke="#4a4a4a" stroke-width="1.1"/>
<line x1="243.50" x2="243.50" y1="709.5" y2="719.5" stroke="#4a4a4a" stroke-width="1.1"/>
<line x1="255.50" x2="255.50" y1="709.5" y2="714.5" stroke="#4a4a4a" stroke-width="1.1"/>
<line x1="267.50" x2="267.50" y1="709.5" y2="714.5" stroke="#4a4a4a" stroke-width="1.1"/>
<line x1="280.50" x2="280.50" y1="709.5" y2="714.5" stroke="#4a4a4a" stroke-width="1.1"/>
<line x1="292.50" x2="292.50" y1="709.5" y2="714.5" stroke="#4a4a4a" stroke-width="1.1"/>
<line x1="305.50" x2="305.50" y1="709.5" y2="719.5" stroke="#4a4a4a" stroke-width="1.1"/>
<line x1="317.50" x2="317.50" y1="709.5" y2="714.5" stroke="#4a4a4a" stroke-width="1.1"/>
<line x1="329.50" x2="329.50" y1="709.5" y2="714.5" stroke="#4a4a4a" stroke-width="1.1"/>
<line x1="342.50" x2="342.50" y1="709.5" y2="714.5" stroke="#4a4a4a" stroke-width="1.1"/>
<line x1="354.50" x2="354.50" y1="709.5" y2="714.5" stroke="#4a4a4a" stroke-width="1.1"/>
<line x1="366.50" x2="366.50" y1="709.5" y2="719.5" stroke="#4a4a4a" stroke-width="1.1"/>
<line x1="379.50" x2="379.50" y1="709.5" y2="714.5" stroke="#4a4a4a" stroke-width="1.1"/>
<line x1="391.50" x2="391.50" y1="709.5" y2="714.5" stroke="#4a4a4a" stroke-width="1.1"/>
<line x1="404.50" x2="404.50" y1="709.5" y2="714.5" stroke="#4a4a4a" stroke-width="1.1"/>
<line x1="416.50" x2="416.50" y1="709.5" y2="714.5" stroke="#4a4a4a" stroke-width="1.1"/>
<line x1="428.50" x2="428.50" y1="709.5" y2="719.5" stroke="#4a4a4a" stroke-width="1.1"/>
<line x1="441.50" x2="441.50" y1="709.5" y2="714.5" stroke="#4a4a4a" stroke-width="1.1"/>
<line x1="453.50" x2="453.50" y1="709.5" y2="714.5" stroke="#4a4a4a" stroke-width="1.1"/>
<line x1="465.50" x2="465.50" y1="709.5" y2="714.5" stroke="#4a4a4a" stroke-width="1.1"/>
<line x1="478.50" x2="478.50" y1="709.5" y2="714.5" stroke="#4a4a4a" stroke-width="1.1"/>
<line x1="490.50" x2="490.50" y1="709.5" y2="719.5" stroke="#4a4a4a" stroke-width="1.1"/>
<line x1="503.50" x2="503.50" y1="709.5" y2="714.5" stroke="#4a4a4a" stroke-width="1.1"/>
<line x1="515.50" x2="515.50" y1="709.5" y2="714.5" stroke="#4a4a4a" stroke-width="1.1"/>
<line x1="527.50" x2="527.50" y1="709.5" y2="714.5" stroke="#4a4a4a" stroke-width="1.1"/>
<line x1="540.50" x2="540.50" y1="709.5" y2="714.5" stroke="#4a4a4a" stroke-width="1.1"/>
<line x1="552.50" x2="552.50" y1="709.5" y2="719.5" stroke="#4a4a4a" stroke-width="1.1"/>
<text x="119.43" y="744" font-size="16.4" text-anchor="middle">5</text>
<text x="181.32" y="744" font-size="16.4" text-anchor="middle">10</text>
<text x="243.20" y="744" font-size="16.4" text-anchor="middle">15</text>
<text x="305.09" y="744" font-size="16.4" text-anchor="middle">20</text>
<text x="366.97" y="744" font-size="16.4" text-anchor="middle">25</text>
<text x="428.86" y="744" font-size="16.4" text-anchor="middle">30</text>
<text x="490.74" y="744" font-size="16.4" text-anchor="middle">35</text>
<text x="552.63" y="744" font-size="16.4" text-anchor="middle">40</text>
<text x="317.05" y="770.1" font-size="19" text-anchor="middle">Rainfall Rate (mm/day)</text>
<text transform="translate(18,568.2) rotate(-90)" font-size="19.4" text-anchor="middle">CDF (%)</text>
<text x="92.7" y="415.5" font-size="20.3" textLength="337.5" lengthAdjust="spacingAndGlyphs">b) CDF For Wet Day Rainfall Records</text>
<line x1="562.8" x2="599.6" y1="435.70" y2="435.70" stroke="#ff3cff" stroke-width="1.5" stroke-dasharray="6.9 0.9"/>
<text x="600" y="439.50" font-size="10.3">TaiESM1</text>
<line x1="562.8" x2="599.6" y1="452.47" y2="452.47" stroke="#c8c83c" stroke-width="1.5" stroke-dasharray="6.9 0.9"/>
<text x="600" y="456.27" font-size="10.3">MRI-ESM2-0</text>
<line x1="562.8" x2="599.6" y1="469.24" y2="469.24" stroke="#46c8ff" stroke-width="1.5" stroke-dasharray="6.9 0.9"/>
<text x="600" y="473.04" font-size="10.3">MPI-ESM1-2-LR</text>
<line x1="562.8" x2="599.6" y1="486.01" y2="486.01" stroke="#3232ff" stroke-width="1.5" stroke-dasharray="6.9 0.9"/>
<text x="600" y="489.81" font-size="10.3">MPI-ESM1-2-HR</text>
<line x1="562.8" x2="599.6" y1="502.78" y2="502.78" stroke="#329632" stroke-width="1.5" stroke-dasharray="6.9 0.9"/>
<text x="600" y="506.58" font-size="10.3">IPSL-CM6A-LR</text>
<line x1="562.8" x2="599.6" y1="519.55" y2="519.55" stroke="#3cff28" stroke-width="1.5" stroke-dasharray="6.9 0.9"/>
<text x="600" y="523.35" font-size="10.3">IITM-ESM</text>
<line x1="562.8" x2="599.6" y1="536.32" y2="536.32" stroke="#e8a03c" stroke-width="1.5" stroke-dasharray="6.9 0.9"/>
<text x="600" y="540.12" font-size="10.3">GFDL-ESM4</text>
<line x1="562.8" x2="599.6" y1="553.09" y2="553.09" stroke="#a040f0" stroke-width="1.5" stroke-dasharray="6.9 0.9"/>
<text x="600" y="556.89" font-size="10.3">EC-Earth3-Veg</text>
<line x1="562.8" x2="599.6" y1="569.86" y2="569.86" stroke="#64ffff" stroke-width="1.5" stroke-dasharray="6.9 0.9"/>
<text x="600" y="573.66" font-size="10.3">CNRM-ESM2-1</text>
<line x1="562.8" x2="599.6" y1="586.63" y2="586.63" stroke="#ff3cb4" stroke-width="1.5" stroke-dasharray="6.9 0.9"/>
<text x="600" y="590.43" font-size="10.3">CMCC-CM2-SR5</text>
<line x1="562.8" x2="599.6" y1="603.40" y2="603.40" stroke="#a07080" stroke-width="1.5" stroke-dasharray="6.9 0.9"/>
<text x="600" y="607.20" font-size="10.3">CESM2</text>
<line x1="562.8" x2="599.6" y1="620.17" y2="620.17" stroke="#ffb4c8" stroke-width="1.5" stroke-dasharray="6.9 0.9"/>
<text x="600" y="623.97" font-size="10.3">CanESM5</text>
<line x1="562.8" x2="599.6" y1="636.94" y2="636.94" stroke="#a01e1e" stroke-width="1.5" stroke-dasharray="6.9 0.9"/>
<text x="600" y="640.74" font-size="10.3">CAMS-CSM1-0</text>
<line x1="562.8" x2="599.6" y1="653.71" y2="653.71" stroke="#ff3232" stroke-width="1.5" stroke-dasharray="6.9 0.9"/>
<text x="600" y="657.51" font-size="10.3">BCC-CSM2-MR</text>
<line x1="562.8" x2="599.6" y1="670.48" y2="670.48" stroke="#ff3c3c" stroke-width="1.5" stroke-dasharray="6.9 0.9"/>
<text x="600" y="674.28" font-size="10.3">ACCESS-ESM1-5</text>
<line x1="562.8" x2="599.6" y1="687.25" y2="687.25" stroke="#000" stroke-width="2.3"/>
<text x="602" y="691.05" font-size="10.3">RS-R</text>
<line x1="562.8" x2="599.6" y1="704.02" y2="704.02" stroke="#bdbdbd" stroke-width="2.2" stroke-dasharray="10.5 9.5"/>
<text x="602" y="707.82" font-size="10.3">MSWX</text>
</svg></body></html>
